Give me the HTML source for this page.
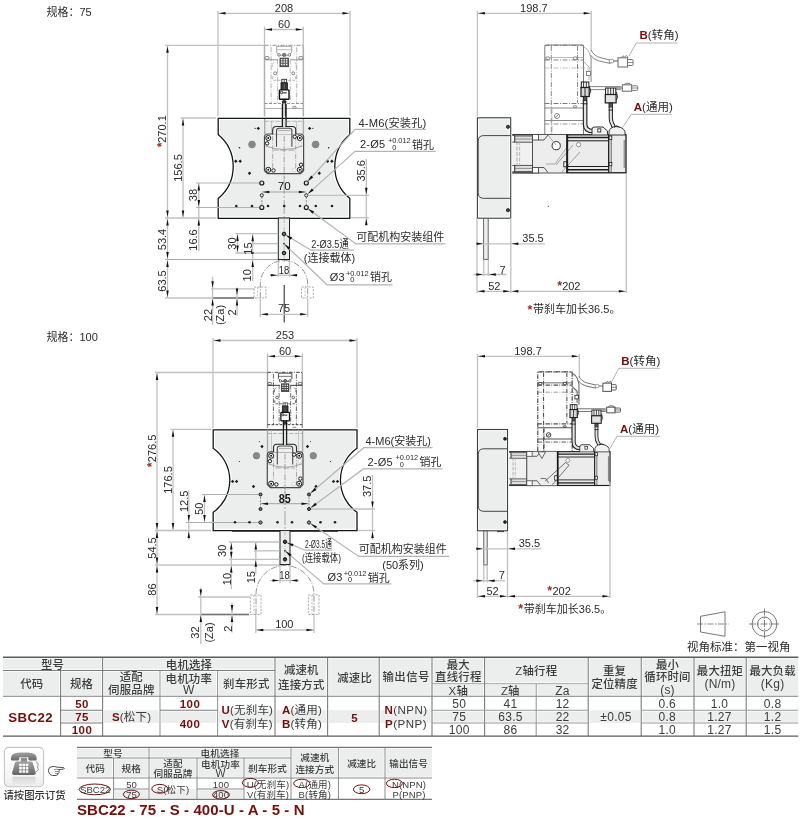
<!DOCTYPE html>
<html lang="zh-CN">
<head>
<meta charset="utf-8">
<title>SBC22</title>
<style>
html,body{margin:0;padding:0;background:#fff;}
body{width:800px;height:820px;overflow:hidden;position:relative;font-family:"Liberation Sans","Noto Sans CJK SC",sans-serif;}
svg{position:absolute;left:0;top:0;display:block;will-change:transform;transform:translateZ(0);}
svg text{font-family:"Liberation Sans","Noto Sans CJK SC",sans-serif;white-space:pre;}
</style>
</head>
<body>
<svg width="800" height="820" viewBox="0 0 800 820">
<text transform="translate(46.5 11.8)" font-size="11" text-anchor="start" fill="#2b2b2b" dy=".36em">规格：75</text>
<line x1="218" y1="11" x2="218" y2="116.5" stroke="#c0c0c0" stroke-width="1.3"/>
<line x1="350" y1="11" x2="350" y2="116.5" stroke="#c0c0c0" stroke-width="1.3"/>
<line x1="264.5" y1="26.5" x2="264.5" y2="45" stroke="#c0c0c0" stroke-width="1.3"/>
<line x1="303.3" y1="26.5" x2="303.3" y2="45" stroke="#c0c0c0" stroke-width="1.3"/>
<line x1="165" y1="45.3" x2="264" y2="45.3" stroke="#c0c0c0" stroke-width="1.3"/>
<line x1="180.5" y1="118" x2="216.5" y2="118" stroke="#c0c0c0" stroke-width="1.3"/>
<line x1="165" y1="218" x2="216.5" y2="218" stroke="#c0c0c0" stroke-width="1.3"/>
<line x1="165" y1="259.5" x2="278" y2="259.5" stroke="#a8a8a8" stroke-width="1.2"/>
<line x1="165" y1="298" x2="254" y2="298" stroke="#c0c0c0" stroke-width="1.3"/>
<line x1="212" y1="298" x2="254" y2="298" stroke="#777" stroke-width="1.6"/>
<line x1="218" y1="13.3" x2="350" y2="13.3" stroke="#c0c0c0" stroke-width="1.3"/>
<polygon points="218.9,13.3 225.5,12.05 225.5,14.55" fill="#111"/>
<polygon points="349.1,13.3 342.5,12.05 342.5,14.55" fill="#111"/>
<text transform="translate(284 8)" font-size="11" text-anchor="middle" fill="#2b2b2b" dy=".36em">208</text>
<line x1="264.5" y1="29.5" x2="303.3" y2="29.5" stroke="#c0c0c0" stroke-width="1.3"/>
<polygon points="265.4,29.5 272,28.25 272,30.75" fill="#111"/>
<polygon points="302.4,29.5 295.8,28.25 295.8,30.75" fill="#111"/>
<text transform="translate(284 24.3)" font-size="11" text-anchor="middle" fill="#2b2b2b" dy=".36em">60</text>
<line x1="167.5" y1="45.3" x2="167.5" y2="218" stroke="#c0c0c0" stroke-width="1.3"/>
<polygon points="167.5,46.2 166.25,52.8 168.75,52.8" fill="#111"/>
<polygon points="167.5,217.1 166.25,210.5 168.75,210.5" fill="#111"/>
<text transform="translate(161.6 129) rotate(-90)" font-size="11" text-anchor="middle" fill="#2b2b2b" dy=".36em">270.1</text>
<text transform="translate(160 144.8) rotate(-90)" font-size="12.5" text-anchor="middle" font-weight="bold" fill="#9a2a1c" dy=".46em">*</text>
<line x1="183" y1="118" x2="183" y2="218" stroke="#c0c0c0" stroke-width="1.3"/>
<polygon points="183,118.9 181.75,125.5 184.25,125.5" fill="#111"/>
<polygon points="183,217.1 181.75,210.5 184.25,210.5" fill="#111"/>
<text transform="translate(177.6 168) rotate(-90)" font-size="11" text-anchor="middle" fill="#2b2b2b" dy=".36em">156.5</text>
<line x1="167.5" y1="218" x2="167.5" y2="259.5" stroke="#c0c0c0" stroke-width="1.3"/>
<polygon points="167.5,218.9 166.25,225.5 168.75,225.5" fill="#111"/>
<polygon points="167.5,258.6 166.25,252 168.75,252" fill="#111"/>
<text transform="translate(162 239.5) rotate(-90)" font-size="11" text-anchor="middle" fill="#2b2b2b" dy=".36em">53.4</text>
<line x1="167.5" y1="259.5" x2="167.5" y2="298" stroke="#c0c0c0" stroke-width="1.3"/>
<polygon points="167.5,260.4 166.25,267 168.75,267" fill="#111"/>
<polygon points="167.5,297.1 166.25,290.5 168.75,290.5" fill="#111"/>
<text transform="translate(162 281) rotate(-90)" font-size="11" text-anchor="middle" fill="#2b2b2b" dy=".36em">63.5</text>
<line x1="198.8" y1="183" x2="198.8" y2="207.5" stroke="#c0c0c0" stroke-width="1.3"/>
<polygon points="198.8,183.9 197.55,190.5 200.05,190.5" fill="#111"/>
<polygon points="198.8,206.6 197.55,200 200.05,200" fill="#111"/>
<text transform="translate(193.3 195) rotate(-90)" font-size="11" text-anchor="middle" fill="#2b2b2b" dy=".36em">38</text>
<line x1="198.8" y1="207.5" x2="198.8" y2="251" stroke="#c0c0c0" stroke-width="1.3"/>
<polygon points="198.8,218.9 197.55,225.5 200.05,225.5" fill="#111"/>
<text transform="translate(193.3 240) rotate(-90)" font-size="11" text-anchor="middle" fill="#2b2b2b" dy=".36em">16.6</text>
<line x1="264.5" y1="45.3" x2="264.5" y2="118" stroke="#b0b0b0" stroke-width="1.5"/>
<line x1="303.3" y1="45.3" x2="303.3" y2="118" stroke="#b0b0b0" stroke-width="1.5"/>
<line x1="264.5" y1="45.3" x2="303.3" y2="45.3" stroke="#8e8e8e" stroke-width="0.95" stroke-dasharray="4 1.5 1 1.5"/>
<line x1="271.1" y1="47.3" x2="271.1" y2="104" stroke="#a4a4a4" stroke-width="0.85" stroke-dasharray="5 1.5 1 1.5"/>
<line x1="296.7" y1="47.3" x2="296.7" y2="104" stroke="#a4a4a4" stroke-width="0.85" stroke-dasharray="5 1.5 1 1.5"/>
<line x1="277.5" y1="59.3" x2="277.5" y2="104" stroke="#a4a4a4" stroke-width="0.75" stroke-dasharray="5 1.5 1 1.5"/>
<line x1="290.3" y1="59.3" x2="290.3" y2="104" stroke="#a4a4a4" stroke-width="0.75" stroke-dasharray="5 1.5 1 1.5"/>
<path d="M276.7 46.3 h15 v6 l-3 3 h-9 l-3 -3 z" stroke="#8e8e8e" stroke-width="0.85" fill="none" />
<line x1="277.2" y1="49.8" x2="291.2" y2="49.8" stroke="#a4a4a4" stroke-width="0.75"/>
<line x1="264.5" y1="59.8" x2="278.2" y2="59.8" stroke="#8e8e8e" stroke-width="0.95"/>
<line x1="290.2" y1="59.8" x2="303.3" y2="59.8" stroke="#8e8e8e" stroke-width="0.95"/>
<rect x="265" y="56.6" width="4" height="2.6" stroke="#666" stroke-width="0.8" fill="#fff" rx="1"/>
<rect x="298.8" y="56.6" width="4" height="2.6" stroke="#666" stroke-width="0.8" fill="#fff" rx="1"/>
<circle cx="279" cy="54.9" r="1.3" stroke="#666" stroke-width="0.8" fill="#fff"/>
<circle cx="289.4" cy="54.9" r="1.3" stroke="#666" stroke-width="0.8" fill="#fff"/>
<circle cx="284.2" cy="54.9" r="1.7" stroke="#666" stroke-width="0.8" fill="#777"/>
<rect x="280" y="58.1" width="8.4" height="8.6" stroke="#333" stroke-width="0.8" fill="#6a6a6a"/>
<circle cx="281.7" cy="59.7" r="0.75" stroke="none" stroke-width="0" fill="#fff"/>
<circle cx="281.7" cy="62.1" r="0.75" stroke="none" stroke-width="0" fill="#fff"/>
<circle cx="281.7" cy="64.5" r="0.75" stroke="none" stroke-width="0" fill="#fff"/>
<circle cx="284.2" cy="59.7" r="0.75" stroke="none" stroke-width="0" fill="#fff"/>
<circle cx="284.2" cy="62.1" r="0.75" stroke="none" stroke-width="0" fill="#fff"/>
<circle cx="284.2" cy="64.5" r="0.75" stroke="none" stroke-width="0" fill="#fff"/>
<circle cx="286.7" cy="59.7" r="0.75" stroke="none" stroke-width="0" fill="#fff"/>
<circle cx="286.7" cy="62.1" r="0.75" stroke="none" stroke-width="0" fill="#fff"/>
<circle cx="286.7" cy="64.5" r="0.75" stroke="none" stroke-width="0" fill="#fff"/>
<circle cx="275.2" cy="73.3" r="1.5" stroke="#666" stroke-width="0.8" fill="#fff"/>
<circle cx="293.2" cy="73.3" r="1.5" stroke="#666" stroke-width="0.8" fill="#fff"/>
<path d="M274.2 62.3 l-2 2 v3 M294.2 62.3 l2 2 v3" stroke="#a4a4a4" stroke-width="0.75" fill="none" />
<path d="M272.7 76.3 v4 h8 M295.7 76.3 v4 h-8" stroke="#a4a4a4" stroke-width="0.75" fill="none" stroke-dasharray="3 1.5" />
<line x1="264.5" y1="103.5" x2="303.3" y2="103.5" stroke="#8e8e8e" stroke-width="0.95" stroke-dasharray="3 1.5"/>
<line x1="264.5" y1="108.5" x2="303.3" y2="108.5" stroke="#a4a4a4" stroke-width="0.85"/>
<rect x="292.7" y="106.4" width="3.5" height="1.8" stroke="#666" stroke-width="0.7" fill="#fff" rx="0.8"/>
<rect x="281.8" y="79.3" width="4.8" height="3.4" stroke="#333" stroke-width="0.9" fill="#fff"/>
<line x1="284.2" y1="79.3" x2="284.2" y2="82.7" stroke="#333" stroke-width="0.8"/>
<rect x="281" y="82.9" width="6.4" height="7.4" stroke="#111" stroke-width="0.8" fill="#3a3a3a"/>
<line x1="284.2" y1="83.3" x2="284.2" y2="90.3" stroke="#888" stroke-width="0.5"/>
<rect x="279.4" y="89.9" width="9.6" height="9.4" stroke="#111" stroke-width="1.4" fill="#fff" rx="0.8"/>
<circle cx="281.6" cy="92.5" r="1.2" stroke="#111" stroke-width="0.9" fill="#fff"/>
<line x1="283.2" y1="92.9" x2="286.7" y2="92.9" stroke="#111" stroke-width="1"/>
<path d="M284.2 99.3 l-2.2 2.6 l2.2 2.6 l2.2 -2.6 z" stroke="#111" stroke-width="0.8" fill="#333" />
<line x1="282.7" y1="103.3" x2="282.7" y2="128" stroke="#222" stroke-width="1.1"/>
<line x1="285.7" y1="103.3" x2="285.7" y2="128" stroke="#222" stroke-width="1.1"/>
<line x1="284.2" y1="103.3" x2="284.2" y2="128" stroke="#d8d8d8" stroke-width="1.6"/>
<path d="M218.2 118.3 H349.8 V134.5 A41.74 41.74 0 0 0 349.8 198.6 V218.3 H218.2 V198.6 A41.74 41.74 0 0 0 218.2 134.5 Z" stroke="#fff" stroke-width="3.6" fill="#eceeed" stroke-linejoin="miter"/>
<path d="M218.2 118.3 H349.8 V134.5 A41.74 41.74 0 0 0 349.8 198.6 V218.3 H218.2 V198.6 A41.74 41.74 0 0 0 218.2 134.5 Z" stroke="#161616" stroke-width="1.3" fill="none" stroke-linejoin="miter"/>
<line x1="284.2" y1="120" x2="284.2" y2="262" stroke="#b0b0b0" stroke-width="1.2" stroke-dasharray="14 2 2 2"/>
<line x1="264.7" y1="119" x2="264.7" y2="134" stroke="#aaa" stroke-width="1.4"/>
<line x1="303.4" y1="119" x2="303.4" y2="134" stroke="#aaa" stroke-width="1.4"/>
<line x1="271.5" y1="121" x2="271.5" y2="134" stroke="#bbb" stroke-width="0.8"/>
<line x1="296.5" y1="121" x2="296.5" y2="134" stroke="#bbb" stroke-width="0.8"/>
<line x1="264.7" y1="121.3" x2="303.4" y2="121.3" stroke="#aaa" stroke-width="0.8" stroke-dasharray="4 1.5"/>
<path d="M264.5 137 q0 -3 3 -3 H300.6 q3 0 3 3 V170.7 l-3 3 H267.5 l-3 -3 Z" stroke="#4a4a4a" stroke-width="1.2" fill="#efefef" />
<path d="M265.5 146 q18.55 7 37.1 0" stroke="#9a9a9a" stroke-width="0.9" fill="none" />
<line x1="272.5" y1="150.2" x2="295.6" y2="150.2" stroke="#aaa" stroke-width="1" stroke-dasharray="6 2"/>
<line x1="272.7" y1="136" x2="272.7" y2="170.7" stroke="#999" stroke-width="0.8" stroke-dasharray="5 1.5 1 1.5"/>
<line x1="295.7" y1="136" x2="295.7" y2="170.7" stroke="#999" stroke-width="0.8" stroke-dasharray="5 1.5 1 1.5"/>
<line x1="284.2" y1="136" x2="284.2" y2="179.7" stroke="#999" stroke-width="0.9" stroke-dasharray="6 1.5 1.2 1.5"/>
<path d="M272.7 134.4 v-4.5 q0 -3.4 3.4 -3.4 h16.2 q3.4 0 3.4 3.4 v4.5" stroke="#2a2a2a" stroke-width="1.1" fill="#efefef" />
<path d="M276.5 146.8 v-16 q0 -2.6 2.6 -2.6 h10.2 q2.6 0 2.6 2.6 v16" stroke="#4a4a4a" stroke-width="1.1" fill="none" />
<line x1="278.2" y1="130.6" x2="290.2" y2="130.6" stroke="#999" stroke-width="0.8"/>
<circle cx="268.3" cy="138" r="2.5" stroke="#1a1a1a" stroke-width="1" fill="#fff"/>
<circle cx="268.3" cy="138" r="1" stroke="none" stroke-width="0" fill="#111"/>
<circle cx="299.8" cy="138" r="2.5" stroke="#1a1a1a" stroke-width="1" fill="#fff"/>
<circle cx="299.8" cy="138" r="1" stroke="none" stroke-width="0" fill="#111"/>
<circle cx="268.3" cy="169.8" r="2.5" stroke="#1a1a1a" stroke-width="1" fill="#fff"/>
<circle cx="268.3" cy="169.8" r="1" stroke="none" stroke-width="0" fill="#111"/>
<circle cx="299.8" cy="169.8" r="2.5" stroke="#1a1a1a" stroke-width="1" fill="#fff"/>
<circle cx="299.8" cy="169.8" r="1" stroke="none" stroke-width="0" fill="#111"/>
<circle cx="267.1" cy="143.4" r="1.7" stroke="#1a1a1a" stroke-width="1" fill="#fff"/>
<circle cx="294.7" cy="136.8" r="1.7" stroke="#1a1a1a" stroke-width="1" fill="#fff"/>
<circle cx="273.5" cy="170.5" r="1.7" stroke="#1a1a1a" stroke-width="1" fill="#fff"/>
<circle cx="301" cy="164.7" r="1.7" stroke="#1a1a1a" stroke-width="1" fill="#fff"/>
<circle cx="300.2" cy="143.6" r="1.8" stroke="#bbb" stroke-width="0.6" fill="#fff"/>
<circle cx="294.3" cy="169.9" r="1.8" stroke="#bbb" stroke-width="0.6" fill="#fff"/>
<line x1="196" y1="183" x2="260" y2="183" stroke="#b0b0b0" stroke-width="1"/>
<line x1="196" y1="207.5" x2="260" y2="207.5" stroke="#b0b0b0" stroke-width="1"/>
<line x1="282.4" y1="104" x2="282.4" y2="127" stroke="#1a1a1a" stroke-width="1.3"/>
<line x1="286" y1="104" x2="286" y2="127" stroke="#1a1a1a" stroke-width="1.3"/>
<line x1="284.2" y1="119.5" x2="284.2" y2="127" stroke="#e4e4e4" stroke-width="2"/>
<circle cx="261.8" cy="183" r="2" stroke="#1a1a1a" stroke-width="1.2" fill="#e8e8e8"/>
<circle cx="261.8" cy="207.5" r="2" stroke="#1a1a1a" stroke-width="1.2" fill="#e8e8e8"/>
<circle cx="261.8" cy="195.3" r="1.6" stroke="#1a1a1a" stroke-width="0.9" fill="#e8e8e8"/>
<line x1="261.8" y1="197" x2="261.8" y2="205.5" stroke="#666" stroke-width="0.7" stroke-dasharray="2 1.2"/>
<circle cx="306.3" cy="183" r="2" stroke="#1a1a1a" stroke-width="1.2" fill="#e8e8e8"/>
<circle cx="306.3" cy="207.5" r="2" stroke="#1a1a1a" stroke-width="1.2" fill="#e8e8e8"/>
<circle cx="306.3" cy="195.3" r="1.6" stroke="#1a1a1a" stroke-width="0.9" fill="#e8e8e8"/>
<line x1="306.3" y1="197" x2="306.3" y2="205.5" stroke="#666" stroke-width="0.7" stroke-dasharray="2 1.2"/>
<circle cx="236.3" cy="206" r="1.3" stroke="none" stroke-width="0" fill="#222"/>
<circle cx="252" cy="206" r="1.3" stroke="none" stroke-width="0" fill="#222"/>
<circle cx="268" cy="206" r="1.3" stroke="none" stroke-width="0" fill="#222"/>
<circle cx="284.2" cy="206" r="1.3" stroke="none" stroke-width="0" fill="#222"/>
<circle cx="300" cy="206" r="1.3" stroke="none" stroke-width="0" fill="#222"/>
<circle cx="315.8" cy="206" r="1.3" stroke="none" stroke-width="0" fill="#222"/>
<circle cx="332" cy="206" r="1.3" stroke="none" stroke-width="0" fill="#222"/>
<path d="M249.5 171.6 l1.7 1.7 l-1.7 1.7 l-1.7 -1.7 z" stroke="none" stroke-width="0" fill="#1a1a1a" />
<path d="M319.3 171.6 l1.7 1.7 l-1.7 1.7 l-1.7 -1.7 z" stroke="none" stroke-width="0" fill="#1a1a1a" />
<path d="M235.8 159.5 l1.7 1.7 l-1.7 1.7 l-1.7 -1.7 z" stroke="none" stroke-width="0" fill="#1a1a1a" />
<path d="M240.2 159.5 l1.7 1.7 l-1.7 1.7 l-1.7 -1.7 z" stroke="none" stroke-width="0" fill="#1a1a1a" />
<path d="M327.5 159.5 l1.7 1.7 l-1.7 1.7 l-1.7 -1.7 z" stroke="none" stroke-width="0" fill="#1a1a1a" />
<path d="M331.9 159.5 l1.7 1.7 l-1.7 1.7 l-1.7 -1.7 z" stroke="none" stroke-width="0" fill="#1a1a1a" />
<circle cx="252" cy="144.5" r="3.4" stroke="#777" stroke-width="0.8" fill="#9a9a9a"/>
<circle cx="252" cy="144.5" r="1.9" stroke="#777" stroke-width="0.6" fill="#888"/>
<circle cx="315.6" cy="144.5" r="3.4" stroke="#777" stroke-width="0.8" fill="#9a9a9a"/>
<circle cx="315.6" cy="144.5" r="1.9" stroke="#777" stroke-width="0.6" fill="#888"/>
<path d="M258.3 126.7 l1.7 1.7 l-1.7 1.7 l-1.7 -1.7 z" stroke="none" stroke-width="0" fill="#1a1a1a" />
<line x1="256" y1="128.4" x2="254.3" y2="128.4" stroke="#444" stroke-width="0.8"/>
<path d="M309.6 126.7 l1.7 1.7 l-1.7 1.7 l-1.7 -1.7 z" stroke="none" stroke-width="0" fill="#1a1a1a" />
<line x1="311.9" y1="128.4" x2="313.6" y2="128.4" stroke="#444" stroke-width="0.8"/>
<circle cx="239.5" cy="147.7" r="0.8" stroke="none" stroke-width="0" fill="#222"/>
<circle cx="328.7" cy="147.7" r="0.8" stroke="none" stroke-width="0" fill="#222"/>
<line x1="261.8" y1="192" x2="306.3" y2="192" stroke="#a0a0a0" stroke-width="1"/>
<polygon points="262.7,192 269.3,190.75 269.3,193.25" fill="#111"/>
<polygon points="305.4,192 298.8,190.75 298.8,193.25" fill="#111"/>
<text transform="translate(284.2 186.3)" font-size="11.6" text-anchor="middle" fill="#111" dy=".36em">70</text>
<rect x="278.3" y="218" width="11.2" height="41.5" stroke="#222" stroke-width="1" fill="#eceeed"/>
<line x1="284.2" y1="218" x2="284.2" y2="259.5" stroke="#aaa" stroke-width="0.7" stroke-dasharray="5 1.5 1 1.5"/>
<circle cx="284" cy="234" r="1.8" stroke="#111" stroke-width="1" fill="#666"/>
<circle cx="284" cy="243.6" r="0.9" stroke="none" stroke-width="0" fill="#222"/>
<circle cx="284" cy="253" r="1.8" stroke="#111" stroke-width="1" fill="#666"/>
<line x1="235.5" y1="233.6" x2="278" y2="233.6" stroke="#c0c0c0" stroke-width="1.3"/>
<line x1="235.5" y1="253" x2="278" y2="253" stroke="#c0c0c0" stroke-width="1.3"/>
<line x1="252" y1="243.7" x2="278" y2="243.7" stroke="#c0c0c0" stroke-width="1.3"/>
<line x1="237.5" y1="233.6" x2="237.5" y2="253" stroke="#c0c0c0" stroke-width="1.3"/>
<polygon points="237.5,234.5 236.25,241.1 238.75,241.1" fill="#111"/>
<polygon points="237.5,252.1 236.25,245.5 238.75,245.5" fill="#111"/>
<text transform="translate(231.6 243.5) rotate(-90)" font-size="11" text-anchor="middle" fill="#2b2b2b" dy=".36em">30</text>
<line x1="252.7" y1="233.8" x2="252.7" y2="281" stroke="#c0c0c0" stroke-width="1.3"/>
<polygon points="252.7,234.7 251.45,241.3 253.95,241.3" fill="#111"/>
<circle cx="252.7" cy="253" r="1.1" stroke="none" stroke-width="0" fill="#222"/>
<text transform="translate(247.6 248.6) rotate(-90)" font-size="11" text-anchor="middle" fill="#2b2b2b" dy=".36em">15</text>
<polygon points="252.7,260.4 251.45,267 253.95,267" fill="#111"/>
<text transform="translate(247.4 275.3) rotate(-90)" font-size="11" text-anchor="middle" fill="#2b2b2b" dy=".36em">10</text>
<line x1="278.3" y1="260" x2="278.3" y2="277" stroke="#c0c0c0" stroke-width="1.3"/>
<line x1="289.5" y1="260" x2="289.5" y2="277" stroke="#c0c0c0" stroke-width="1.3"/>
<line x1="269.5" y1="275.2" x2="297.5" y2="275.2" stroke="#c0c0c0" stroke-width="1.3"/>
<polygon points="277.4,275.2 270.8,273.95 270.8,276.45" fill="#111"/>
<polygon points="290.4,275.2 297,273.95 297,276.45" fill="#111"/>
<text transform="translate(284 270) scale(0.9 1)" font-size="10.5" text-anchor="middle" fill="#2b2b2b" dy=".36em">18</text>
<path d="M260.3 298 V284.2 A23.7 23.7 0 0 1 307.7 284.2 V298" stroke="#8c8c8c" stroke-width="0.9" fill="none" stroke-dasharray="6 1.5 1.2 1.5" />
<rect x="254.1" y="287" width="11.8" height="11" stroke="#9a9a9a" stroke-width="0.8" fill="none" stroke-dasharray="2.2 1.3"/>
<line x1="257.7" y1="287" x2="257.7" y2="298" stroke="#aaa" stroke-width="0.7" stroke-dasharray="2.2 1.3"/>
<rect x="301.5" y="287" width="11.8" height="11" stroke="#9a9a9a" stroke-width="0.8" fill="none" stroke-dasharray="2.2 1.3"/>
<line x1="305.1" y1="287" x2="305.1" y2="298" stroke="#aaa" stroke-width="0.7" stroke-dasharray="2.2 1.3"/>
<line x1="284.2" y1="285" x2="284.2" y2="322.5" stroke="#333" stroke-width="1.1"/>
<line x1="260.3" y1="299" x2="260.3" y2="317" stroke="#c0c0c0" stroke-width="1.3"/>
<line x1="307.7" y1="299" x2="307.7" y2="317" stroke="#c0c0c0" stroke-width="1.3"/>
<line x1="260.3" y1="314.3" x2="307.7" y2="314.3" stroke="#c0c0c0" stroke-width="1.3"/>
<polygon points="261.2,314.3 267.8,313.05 267.8,315.55" fill="#111"/>
<polygon points="306.8,314.3 300.2,313.05 300.2,315.55" fill="#111"/>
<text transform="translate(284 308.5)" font-size="11" text-anchor="middle" fill="#2b2b2b" dy=".36em">75</text>
<line x1="211" y1="288.8" x2="254" y2="288.8" stroke="#c0c0c0" stroke-width="1.3"/>
<line x1="212.6" y1="277" x2="212.6" y2="325" stroke="#c0c0c0" stroke-width="1.3"/>
<polygon points="212.6,287.9 211.35,281.3 213.85,281.3" fill="#111"/>
<polygon points="212.6,298.9 211.35,305.5 213.85,305.5" fill="#111"/>
<text transform="translate(207.7 315) rotate(-90)" font-size="11" text-anchor="middle" fill="#2b2b2b" dy=".36em">22</text>
<text transform="translate(220.5 315) rotate(-90)" font-size="11" text-anchor="middle" fill="#2b2b2b" dy=".36em">(Za)</text>
<line x1="237" y1="287.5" x2="237" y2="316" stroke="#c0c0c0" stroke-width="1.3"/>
<polygon points="237,295.1 235.75,288.5 238.25,288.5" fill="#111"/>
<polygon points="237,298.9 235.75,305.5 238.25,305.5" fill="#111"/>
<text transform="translate(232.5 312.5) rotate(-90)" font-size="11" text-anchor="middle" fill="#2b2b2b" dy=".36em">2</text>
<path d="M307.78 181.37 L355 129.3 H426" stroke="#b4b4b4" stroke-width="1.2" fill="none" />
<polygon points="307.78,181.37 311.11,175.61 313.18,177.5" fill="#111"/>
<text transform="translate(358.5 122.6)" font-size="11.2" text-anchor="start" fill="#2b2b2b" dy=".36em" letter-spacing="0.15">4-M6(安装孔)</text>
<path d="M307.93 193.83 L355 151.4 H435.6" stroke="#b4b4b4" stroke-width="1.2" fill="none" />
<polygon points="307.93,193.83 311.82,188.44 313.7,190.51" fill="#111"/>
<text transform="translate(360 144.2)" font-size="11" text-anchor="start" fill="#2b2b2b" dy=".36em" letter-spacing="0.2">2-Ø5</text>
<text transform="translate(388 140.3)" font-size="7.5" text-anchor="start" fill="#2b2b2b" dy=".36em">+</text>
<text transform="translate(392.2 140.3)" font-size="7.4" text-anchor="start" fill="#2b2b2b" dy=".36em">0.012</text>
<text transform="translate(392.2 146.9)" font-size="7.4" text-anchor="start" fill="#2b2b2b" dy=".36em">0</text>
<text transform="translate(412 144.8)" font-size="11" text-anchor="start" fill="#2b2b2b" dy=".36em">销孔</text>
<line x1="308" y1="195.3" x2="369" y2="195.3" stroke="#c0c0c0" stroke-width="1.3"/>
<line x1="351" y1="217.7" x2="369" y2="217.7" stroke="#c0c0c0" stroke-width="1.3"/>
<line x1="366.3" y1="159" x2="366.3" y2="225" stroke="#c0c0c0" stroke-width="1.3"/>
<polygon points="366.3,194.4 365.05,187.8 367.55,187.8" fill="#111"/>
<polygon points="366.3,218.6 365.05,225.2 367.55,225.2" fill="#111"/>
<text transform="translate(361 170.8) rotate(-90)" font-size="11" text-anchor="middle" fill="#2b2b2b" dy=".36em">35.6</text>
<path d="M308.07 208.8 L356 243.9 H445.5" stroke="#b4b4b4" stroke-width="1.2" fill="none" />
<polygon points="308.07,208.8 314.15,211.51 312.49,213.77" fill="#111"/>
<text transform="translate(356.3 236.8)" font-size="11" text-anchor="start" fill="#2b2b2b" dy=".36em">可配机构安装组件</text>
<path d="M285.89 235.13 L311 250.2 H353.8" stroke="#b4b4b4" stroke-width="1.2" fill="none" />
<polygon points="285.89,235.13 292.18,237.28 290.74,239.68" fill="#111"/>
<text transform="translate(311.3 244.3) scale(0.84 1)" font-size="11" text-anchor="start" fill="#2b2b2b" dy=".36em">2-Ø3.5通</text>
<text transform="translate(303.8 258.3)" font-size="11" text-anchor="start" fill="#2b2b2b" dy=".36em">(连接载体)</text>
<path d="M284.36 243.95 L327 284.8 H392.5" stroke="#b4b4b4" stroke-width="1.2" fill="none" />
<polygon points="284.36,243.95 290.38,247.78 288.45,249.8" fill="#111"/>
<text transform="translate(329.8 276.8)" font-size="11" text-anchor="start" fill="#2b2b2b" dy=".36em" letter-spacing="0.2">Ø3</text>
<text transform="translate(346 272.9)" font-size="7.5" text-anchor="start" fill="#2b2b2b" dy=".36em">+</text>
<text transform="translate(350.2 272.9)" font-size="7.4" text-anchor="start" fill="#2b2b2b" dy=".36em">0.012</text>
<text transform="translate(350.2 279.5)" font-size="7.4" text-anchor="start" fill="#2b2b2b" dy=".36em">0</text>
<text transform="translate(370 277.4)" font-size="11" text-anchor="start" fill="#2b2b2b" dy=".36em">销孔</text>
<line x1="477.4" y1="11" x2="477.4" y2="117.5" stroke="#c0c0c0" stroke-width="1.3"/>
<line x1="591.2" y1="11" x2="591.2" y2="82" stroke="#c0c0c0" stroke-width="1.3"/>
<line x1="477.4" y1="13.3" x2="591.2" y2="13.3" stroke="#c0c0c0" stroke-width="1.3"/>
<polygon points="478.3,13.3 484.9,12.05 484.9,14.55" fill="#111"/>
<polygon points="590.3,13.3 583.7,12.05 583.7,14.55" fill="#111"/>
<text transform="translate(533.8 8)" font-size="11" text-anchor="middle" fill="#2b2b2b" dy=".36em">198.7</text>
<path d="M544.8 134 V47 q0 -2 2 -2 H581.5 q2 0 2 2 V134" stroke="#787878" stroke-width="0.99" fill="#fff" />
<line x1="544.5" y1="45.3" x2="584" y2="45.3" stroke="#787878" stroke-width="0.99" stroke-dasharray="5 1.5 1 1.5"/>
<path d="M584 47 q4 2 5.5 6 l1.6 6 V82" stroke="#a8a8a8" stroke-width="0.88" fill="none" />
<path d="M584 62 l5 5 V80" stroke="#a8a8a8" stroke-width="0.88" fill="none" />
<line x1="551.3" y1="46" x2="551.3" y2="134" stroke="#787878" stroke-width="0.88" stroke-dasharray="5 1.5 1 1.5"/>
<line x1="577.5" y1="46" x2="577.5" y2="103" stroke="#787878" stroke-width="0.88" stroke-dasharray="5 1.5 1 1.5"/>
<line x1="544.5" y1="60" x2="584" y2="60" stroke="#787878" stroke-width="0.88" stroke-dasharray="5 1.5 1 1.5"/>
<line x1="544.5" y1="57.5" x2="584" y2="57.5" stroke="#a8a8a8" stroke-width="0.77"/>
<rect x="546" y="57" width="3.4" height="2.6" stroke="#666" stroke-width="0.77" fill="#fff" rx="0.6"/>
<rect x="573.5" y="57" width="3.4" height="2.6" stroke="#666" stroke-width="0.77" fill="#fff" rx="0.6"/>
<line x1="544.5" y1="68" x2="591" y2="68" stroke="#a8a8a8" stroke-width="0.7" stroke-dasharray="5 1.5 1 1.5"/>
<line x1="544.5" y1="103.5" x2="584" y2="103.5" stroke="#787878" stroke-width="0.99" stroke-dasharray="5 1.5 1 1.5"/>
<line x1="544.5" y1="108" x2="584" y2="108" stroke="#787878" stroke-width="0.88"/>
<rect x="573.5" y="105.8" width="3.2" height="1.8" stroke="#666" stroke-width="0.77" fill="#fff" rx="0.6"/>
<line x1="544.5" y1="120.5" x2="584" y2="120.5" stroke="#787878" stroke-width="0.88"/>
<line x1="544.5" y1="124" x2="584" y2="124" stroke="#787878" stroke-width="0.77" stroke-dasharray="5 1.5 1 1.5"/>
<line x1="552" y1="108" x2="552" y2="134" stroke="#a8a8a8" stroke-width="0.77" stroke-dasharray="5 1.5 1 1.5"/>
<circle cx="557" cy="116" r="2.5" stroke="#666" stroke-width="0.77" fill="#fff"/>
<line x1="555.4" y1="117.6" x2="558.6" y2="114.4" stroke="#666" stroke-width="0.77"/>
<rect x="586.5" y="71.5" width="4" height="4" stroke="#666" stroke-width="0.77" fill="#fff"/>
<path d="M591 50 q3 6 9 7.5 l10 2.5 v3.4 l-11 -2.4 q-6 -1.5 -9 -6.5" stroke="#787878" stroke-width="0.9" fill="#fff" />
<rect x="609.3" y="59.3" width="4.2" height="3.6" stroke="#777" stroke-width="0.8" fill="#fff" rx="1.2"/>
<line x1="613.5" y1="61" x2="618" y2="61" stroke="#444" stroke-width="0.9"/>
<rect x="618" y="57.8" width="9.6" height="9.2" stroke="#666" stroke-width="1" fill="#fff"/>
<rect x="627.6" y="59.5" width="5.4" height="6" stroke="#666" stroke-width="0.9" fill="#fff" rx="1"/>
<line x1="627.6" y1="62.5" x2="633" y2="62.5" stroke="#666" stroke-width="0.7"/>
<path d="M621 57.8 l2 -2 l1.5 1.2 l2 -1.5 l1.5 2.3" stroke="#666" stroke-width="0.8" fill="none" />
<path d="M589 86.6 H621 M589 89.6 H621" stroke="#787878" stroke-width="0.9" fill="none" />
<line x1="616" y1="88" x2="622" y2="88" stroke="#444" stroke-width="0.9"/>
<rect x="622.3" y="84.8" width="9.4" height="6.4" stroke="#666" stroke-width="1" fill="#fff"/>
<rect x="631.7" y="85.8" width="6" height="4.6" stroke="#666" stroke-width="0.9" fill="#fff" rx="1"/>
<line x1="631.7" y1="88" x2="637.7" y2="88" stroke="#666" stroke-width="0.7"/>
<path d="M624 84.8 l1.5 -1.6 l4.5 0.3 l1 1.3" stroke="#666" stroke-width="0.8" fill="none" />
<rect x="581.3" y="82" width="7.6" height="5.5" stroke="#1c1c1c" stroke-width="1" fill="#fff"/>
<line x1="583.6" y1="82" x2="583.6" y2="87.5" stroke="#1c1c1c" stroke-width="0.9"/>
<line x1="586.3" y1="82" x2="586.3" y2="87.5" stroke="#1c1c1c" stroke-width="0.9"/>
<rect x="581" y="87.5" width="8.2" height="9" stroke="#1c1c1c" stroke-width="1.2" fill="#d8d8d8"/>
<line x1="585" y1="88" x2="585" y2="96" stroke="#1c1c1c" stroke-width="0.9"/>
<path d="M589.2 86 l1.6 5 l-1.6 4" stroke="#1c1c1c" stroke-width="0.9" fill="none" />
<rect x="583.3" y="96.5" width="3.6" height="4.2" stroke="#1c1c1c" stroke-width="0.9" fill="#555"/>
<path d="M585.1 101 V124 q0 7 7.5 7 H596" stroke="#1c1c1c" stroke-width="4.6" fill="none" />
<path d="M585.1 101 V124 q0 7 7.5 7 H596" stroke="#e4e4e4" stroke-width="2.4" fill="none" />
<line x1="582.8" y1="103.8" x2="587.4" y2="103.8" stroke="#1c1c1c" stroke-width="0.9"/>
<rect x="605.6" y="88" width="10.2" height="6.5" stroke="#1c1c1c" stroke-width="1" fill="#fff"/>
<line x1="608" y1="88" x2="608" y2="94.5" stroke="#1c1c1c" stroke-width="0.9"/>
<line x1="610.7" y1="88" x2="610.7" y2="94.5" stroke="#1c1c1c" stroke-width="0.9"/>
<line x1="613.4" y1="88" x2="613.4" y2="94.5" stroke="#1c1c1c" stroke-width="0.9"/>
<rect x="605.3" y="94.5" width="10.8" height="8.4" stroke="#1c1c1c" stroke-width="1.2" fill="#e4e4e4"/>
<path d="M616.4 92 l1.3 5.6 l-1.6 2.4" stroke="#1c1c1c" stroke-width="0.9" fill="none" />
<rect x="609" y="103" width="3.6" height="4.4" stroke="#1c1c1c" stroke-width="0.9" fill="#555"/>
<path d="M610.8 107.4 V118 q0 4 2 7 l2 4" stroke="#1c1c1c" stroke-width="4.2" fill="none" />
<path d="M610.8 107.4 V118 q0 4 2 7 l2 4" stroke="#e4e4e4" stroke-width="2.2" fill="none" />
<line x1="608.6" y1="110" x2="613" y2="110" stroke="#1c1c1c" stroke-width="0.9"/>
<rect x="511" y="134.5" width="115" height="38.5" stroke="none" stroke-width="0" fill="#ececec"/>
<rect x="511" y="134.5" width="21.5" height="38.5" stroke="#333" stroke-width="0.9" fill="#f1f1f1"/>
<rect x="514.8" y="136" width="17.8" height="6.2" stroke="#444" stroke-width="0.9" fill="#e2e2e2"/>
<rect x="514.8" y="165.4" width="17.8" height="6.2" stroke="#444" stroke-width="0.9" fill="#e2e2e2"/>
<line x1="515" y1="139" x2="532.5" y2="139" stroke="#777" stroke-width="0.8"/>
<line x1="515" y1="168.4" x2="532.5" y2="168.4" stroke="#777" stroke-width="0.8"/>
<line x1="511" y1="134.8" x2="533" y2="134.8" stroke="#333" stroke-width="1"/>
<line x1="511" y1="172.8" x2="533" y2="172.8" stroke="#333" stroke-width="1"/>
<rect x="511.4" y="135.6" width="3.2" height="6.4" stroke="#444" stroke-width="0.9" fill="#fff"/>
<rect x="511.4" y="165.4" width="3.2" height="6.4" stroke="#444" stroke-width="0.9" fill="#fff"/>
<line x1="517" y1="141" x2="517" y2="167" stroke="#999" stroke-width="0.8" stroke-dasharray="4 1.5"/>
<line x1="519.6" y1="141" x2="519.6" y2="167" stroke="#aaa" stroke-width="0.8" stroke-dasharray="4 1.5"/>
<path d="M532.5 134.5 H567 V173 H532.5 Z" stroke="#444" stroke-width="0.9" fill="#ededed" />
<rect x="532.5" y="134.5" width="6" height="5.5" stroke="#444" stroke-width="0.9" fill="#fff"/>
<rect x="532.5" y="167.5" width="6" height="5.5" stroke="#444" stroke-width="0.9" fill="#fff"/>
<path d="M538.5 140 H544 L548 135 M538.5 167.5 H544 L548 172.5" stroke="#444" stroke-width="0.9" fill="none" />
<circle cx="556.2" cy="145.7" r="4.1" stroke="#333" stroke-width="1" fill="#fff"/>
<path d="M548 135 l8 10 M567 147 l-12 17 h-9" stroke="#999" stroke-width="0.8" fill="none" />
<path d="M556 165 L573 145 M561 173 L580 152" stroke="#8a8a8a" stroke-width="0.8" fill="none" />
<circle cx="578.6" cy="144.6" r="2.2" stroke="#777" stroke-width="0.8" fill="#fff"/>
<rect x="563.8" y="161.8" width="3" height="5" stroke="#222" stroke-width="0.9" fill="#fff"/>
<line x1="567" y1="134.5" x2="567" y2="173" stroke="#1c1c1c" stroke-width="1.5"/>
<rect x="567.5" y="134.8" width="58.5" height="38" stroke="#1c1c1c" stroke-width="1.3" fill="none"/>
<line x1="567.5" y1="137.6" x2="608.5" y2="137.6" stroke="#1c1c1c" stroke-width="1.5"/>
<line x1="567.5" y1="140.8" x2="608.5" y2="140.8" stroke="#1c1c1c" stroke-width="1"/>
<line x1="567.5" y1="166.5" x2="608.5" y2="166.5" stroke="#1c1c1c" stroke-width="1"/>
<line x1="567.5" y1="169.8" x2="608.5" y2="169.8" stroke="#1c1c1c" stroke-width="1.5"/>
<line x1="608.7" y1="134.8" x2="608.7" y2="172.8" stroke="#1c1c1c" stroke-width="1.3"/>
<line x1="611.2" y1="134.8" x2="611.2" y2="172.8" stroke="#444" stroke-width="0.8"/>
<rect x="609.2" y="136" width="2.6" height="3.4" stroke="#1c1c1c" stroke-width="0.8" fill="#fff"/>
<rect x="609.2" y="162.4" width="2.6" height="3.4" stroke="#1c1c1c" stroke-width="0.8" fill="#fff"/>
<line x1="624.2" y1="140" x2="624.2" y2="168" stroke="#555" stroke-width="0.8"/>
<path d="M592 134.5 V129.5 q0 -2.5 2.5 -2.5 H603 l4.5 4 V134.5" stroke="#1c1c1c" stroke-width="0.9" fill="#f2f2f2" />
<rect x="597.8" y="128.8" width="3" height="3.2" stroke="#1c1c1c" stroke-width="0.8" fill="#fff"/>
<path d="M609 134.5 v-3 q1 -4.5 7 -5 q7 0.5 9 5 v3" stroke="#1c1c1c" stroke-width="0.9" fill="#f2f2f2" />
<path d="M614 127.5 l2.5 -1.8 l3 1.4" stroke="#1c1c1c" stroke-width="0.8" fill="none" />
<rect x="477.4" y="117.8" width="33.3" height="100.4" stroke="#fff" stroke-width="3.2" fill="#eceeed"/>
<rect x="477.4" y="117.8" width="33.3" height="100.4" stroke="#3c3c3c" stroke-width="1.1" fill="none"/>
<path d="M510.7 135.6 H483.7 q-5.5 0 -5.5 5.5 V192.8 q0 5.5 5.5 5.5 H510.7" stroke="#444" stroke-width="1" fill="none" />
<circle cx="508" cy="126.8" r="1.6" stroke="#111" stroke-width="0.8" fill="#444"/>
<circle cx="508" cy="210.2" r="1.6" stroke="#111" stroke-width="0.8" fill="#444"/>
<circle cx="548.3" cy="206.3" r="0.6" stroke="none" stroke-width="0" fill="#222"/>
<rect x="483.6" y="218.4" width="4.6" height="41" stroke="#666" stroke-width="1" fill="#eee"/>
<line x1="477" y1="218" x2="477" y2="293" stroke="#c0c0c0" stroke-width="1.3"/>
<line x1="510.8" y1="218" x2="510.8" y2="293" stroke="#c0c0c0" stroke-width="1.3"/>
<line x1="626.3" y1="173" x2="626.3" y2="293" stroke="#c0c0c0" stroke-width="1.3"/>
<line x1="480" y1="243.8" x2="545" y2="243.8" stroke="#c0c0c0" stroke-width="1.3"/>
<polygon points="483.1,243.8 476.5,242.55 476.5,245.05" fill="#111"/>
<polygon points="511.7,243.8 518.3,242.55 518.3,245.05" fill="#111"/>
<text transform="translate(533 238)" font-size="11" text-anchor="middle" fill="#2b2b2b" dy=".36em">35.5</text>
<line x1="483.8" y1="260" x2="483.8" y2="276" stroke="#c0c0c0" stroke-width="1.3"/>
<line x1="488.3" y1="260" x2="488.3" y2="276" stroke="#c0c0c0" stroke-width="1.3"/>
<line x1="473.5" y1="274.5" x2="506.5" y2="274.5" stroke="#c0c0c0" stroke-width="1.3"/>
<polygon points="482.9,274.5 476.3,273.25 476.3,275.75" fill="#111"/>
<polygon points="489.2,274.5 495.8,273.25 495.8,275.75" fill="#111"/>
<text transform="translate(502.5 269.8)" font-size="11" text-anchor="middle" fill="#2b2b2b" dy=".36em">7</text>
<line x1="477" y1="291.3" x2="510.8" y2="291.3" stroke="#c0c0c0" stroke-width="1.3"/>
<polygon points="477.9,291.3 484.5,290.05 484.5,292.55" fill="#111"/>
<polygon points="509.9,291.3 503.3,290.05 503.3,292.55" fill="#111"/>
<text transform="translate(494.3 285.8)" font-size="11" text-anchor="middle" fill="#2b2b2b" dy=".36em">52</text>
<line x1="510.8" y1="291.3" x2="626.3" y2="291.3" stroke="#c0c0c0" stroke-width="1.3"/>
<polygon points="511.7,291.3 518.3,290.05 518.3,292.55" fill="#111"/>
<polygon points="625.4,291.3 618.8,290.05 618.8,292.55" fill="#111"/>
<text transform="translate(571.3 285.8)" font-size="11" text-anchor="middle" fill="#2b2b2b" dy=".36em">202</text>
<text transform="translate(559.6 284)" font-size="12.5" text-anchor="middle" font-weight="bold" fill="#9a2a1c" dy=".46em">*</text>
<text transform="translate(533 309.5)" font-size="11" text-anchor="start" fill="#2b2b2b" dy=".36em">带刹车加长36.5。</text>
<text transform="translate(530 308)" font-size="12.5" text-anchor="middle" font-weight="bold" fill="#9a2a1c" dy=".46em">*</text>
<path d="M628.8 56.3 L636.3 43 H677.5" stroke="#aaa" stroke-width="0.9" fill="none" />
<text transform="translate(639.5 35)" font-size="11.5" text-anchor="start" fill="#2b2b2b" dy=".36em"><tspan fill="#72100b" font-weight="bold">B</tspan>(转角)</text>
<path d="M622.5 127.5 L631.3 114.3 H672" stroke="#aaa" stroke-width="0.9" fill="none" />
<text transform="translate(633.8 107)" font-size="11.5" text-anchor="start" fill="#2b2b2b" dy=".36em"><tspan fill="#72100b" font-weight="bold">A</tspan>(通用)</text>
<text transform="translate(46.5 337.5)" font-size="11" text-anchor="start" fill="#2b2b2b" dy=".36em">规格：100</text>
<line x1="213" y1="338" x2="213" y2="428" stroke="#c0c0c0" stroke-width="1.3"/>
<line x1="357" y1="338" x2="357" y2="428" stroke="#c0c0c0" stroke-width="1.3"/>
<line x1="267.5" y1="353.5" x2="267.5" y2="372" stroke="#c0c0c0" stroke-width="1.3"/>
<line x1="302.3" y1="353.5" x2="302.3" y2="372" stroke="#c0c0c0" stroke-width="1.3"/>
<line x1="155" y1="372.5" x2="267" y2="372.5" stroke="#c0c0c0" stroke-width="1.3"/>
<line x1="170.5" y1="429.3" x2="211.5" y2="429.3" stroke="#c0c0c0" stroke-width="1.3"/>
<line x1="155" y1="530.5" x2="211.5" y2="530.5" stroke="#c0c0c0" stroke-width="1.3"/>
<line x1="155" y1="565" x2="280" y2="565" stroke="#a8a8a8" stroke-width="1.2"/>
<line x1="155" y1="614.5" x2="249" y2="614.5" stroke="#c0c0c0" stroke-width="1.3"/>
<line x1="200.5" y1="614.5" x2="249" y2="614.5" stroke="#777" stroke-width="1.6"/>
<line x1="213" y1="340.5" x2="357" y2="340.5" stroke="#c0c0c0" stroke-width="1.3"/>
<polygon points="213.9,340.5 220.5,339.25 220.5,341.75" fill="#111"/>
<polygon points="356.1,340.5 349.5,339.25 349.5,341.75" fill="#111"/>
<text transform="translate(285 335)" font-size="11" text-anchor="middle" fill="#2b2b2b" dy=".36em">253</text>
<line x1="267.5" y1="356.3" x2="302.3" y2="356.3" stroke="#c0c0c0" stroke-width="1.3"/>
<polygon points="268.4,356.3 275,355.05 275,357.55" fill="#111"/>
<polygon points="301.4,356.3 294.8,355.05 294.8,357.55" fill="#111"/>
<text transform="translate(285 351.3)" font-size="11" text-anchor="middle" fill="#2b2b2b" dy=".36em">60</text>
<line x1="157" y1="372.5" x2="157" y2="530.5" stroke="#c0c0c0" stroke-width="1.3"/>
<polygon points="157,373.4 155.75,380 158.25,380" fill="#111"/>
<polygon points="157,529.6 155.75,523 158.25,523" fill="#111"/>
<text transform="translate(151.8 448.4) rotate(-90)" font-size="11" text-anchor="middle" fill="#2b2b2b" dy=".36em">276.5</text>
<text transform="translate(150 464.8) rotate(-90)" font-size="12.5" text-anchor="middle" font-weight="bold" fill="#9a2a1c" dy=".46em">*</text>
<line x1="173" y1="429.3" x2="173" y2="530.5" stroke="#c0c0c0" stroke-width="1.3"/>
<polygon points="173,430.2 171.75,436.8 174.25,436.8" fill="#111"/>
<polygon points="173,529.6 171.75,523 174.25,523" fill="#111"/>
<text transform="translate(167.6 480) rotate(-90)" font-size="11" text-anchor="middle" fill="#2b2b2b" dy=".36em">176.5</text>
<line x1="157" y1="530.5" x2="157" y2="565" stroke="#c0c0c0" stroke-width="1.3"/>
<polygon points="157,531.4 155.75,538 158.25,538" fill="#111"/>
<polygon points="157,564.1 155.75,557.5 158.25,557.5" fill="#111"/>
<text transform="translate(151.6 548) rotate(-90)" font-size="11" text-anchor="middle" fill="#2b2b2b" dy=".36em">54.5</text>
<line x1="157" y1="565" x2="157" y2="614.5" stroke="#c0c0c0" stroke-width="1.3"/>
<polygon points="157,565.9 155.75,572.5 158.25,572.5" fill="#111"/>
<polygon points="157,613.6 155.75,607 158.25,607" fill="#111"/>
<text transform="translate(151.6 589.5) rotate(-90)" font-size="11" text-anchor="middle" fill="#2b2b2b" dy=".36em">86</text>
<line x1="188.8" y1="490" x2="188.8" y2="540" stroke="#c0c0c0" stroke-width="1.3"/>
<polygon points="188.8,521.6 187.55,515 190.05,515" fill="#111"/>
<polygon points="188.8,531.4 187.55,538 190.05,538" fill="#111"/>
<text transform="translate(183.6 501.3) rotate(-90)" font-size="11" text-anchor="middle" fill="#2b2b2b" dy=".36em">12.5</text>
<line x1="204.5" y1="494.5" x2="204.5" y2="522.5" stroke="#c0c0c0" stroke-width="1.3"/>
<polygon points="204.5,495.4 203.25,502 205.75,502" fill="#111"/>
<polygon points="204.5,521.6 203.25,515 205.75,515" fill="#111"/>
<text transform="translate(199.2 508.8) rotate(-90)" font-size="11" text-anchor="middle" fill="#2b2b2b" dy=".36em">50</text>
<g transform="translate(284.9 372.3) scale(0.897 0.9) translate(-283.9 -45.3)">
<line x1="264.5" y1="45.3" x2="264.5" y2="118" stroke="#9a9a9a" stroke-width="1.5"/>
<line x1="303.3" y1="45.3" x2="303.3" y2="118" stroke="#9a9a9a" stroke-width="1.5"/>
<line x1="264.5" y1="45.3" x2="303.3" y2="45.3" stroke="#3c3c3c" stroke-width="1.1" stroke-dasharray="4 1.5 1 1.5"/>
<line x1="271.1" y1="47.3" x2="271.1" y2="104" stroke="#555" stroke-width="1" stroke-dasharray="5 1.5 1 1.5"/>
<line x1="296.7" y1="47.3" x2="296.7" y2="104" stroke="#555" stroke-width="1" stroke-dasharray="5 1.5 1 1.5"/>
<line x1="277.5" y1="59.3" x2="277.5" y2="104" stroke="#555" stroke-width="0.9" stroke-dasharray="5 1.5 1 1.5"/>
<line x1="290.3" y1="59.3" x2="290.3" y2="104" stroke="#555" stroke-width="0.9" stroke-dasharray="5 1.5 1 1.5"/>
<path d="M276.7 46.3 h15 v6 l-3 3 h-9 l-3 -3 z" stroke="#3c3c3c" stroke-width="1" fill="none" />
<line x1="277.2" y1="49.8" x2="291.2" y2="49.8" stroke="#555" stroke-width="0.9"/>
<line x1="264.5" y1="59.8" x2="278.2" y2="59.8" stroke="#3c3c3c" stroke-width="1.1"/>
<line x1="290.2" y1="59.8" x2="303.3" y2="59.8" stroke="#3c3c3c" stroke-width="1.1"/>
<rect x="265" y="56.6" width="4" height="2.6" stroke="#333" stroke-width="0.8" fill="#fff" rx="1"/>
<rect x="298.8" y="56.6" width="4" height="2.6" stroke="#333" stroke-width="0.8" fill="#fff" rx="1"/>
<circle cx="279" cy="54.9" r="1.3" stroke="#333" stroke-width="0.8" fill="#fff"/>
<circle cx="289.4" cy="54.9" r="1.3" stroke="#333" stroke-width="0.8" fill="#fff"/>
<circle cx="284.2" cy="54.9" r="1.7" stroke="#333" stroke-width="0.8" fill="#777"/>
<rect x="280" y="58.1" width="8.4" height="8.6" stroke="#333" stroke-width="0.8" fill="#4a4a4a"/>
<circle cx="281.7" cy="59.7" r="0.75" stroke="none" stroke-width="0" fill="#fff"/>
<circle cx="281.7" cy="62.1" r="0.75" stroke="none" stroke-width="0" fill="#fff"/>
<circle cx="281.7" cy="64.5" r="0.75" stroke="none" stroke-width="0" fill="#fff"/>
<circle cx="284.2" cy="59.7" r="0.75" stroke="none" stroke-width="0" fill="#fff"/>
<circle cx="284.2" cy="62.1" r="0.75" stroke="none" stroke-width="0" fill="#fff"/>
<circle cx="284.2" cy="64.5" r="0.75" stroke="none" stroke-width="0" fill="#fff"/>
<circle cx="286.7" cy="59.7" r="0.75" stroke="none" stroke-width="0" fill="#fff"/>
<circle cx="286.7" cy="62.1" r="0.75" stroke="none" stroke-width="0" fill="#fff"/>
<circle cx="286.7" cy="64.5" r="0.75" stroke="none" stroke-width="0" fill="#fff"/>
<circle cx="275.2" cy="73.3" r="1.5" stroke="#333" stroke-width="0.8" fill="#fff"/>
<circle cx="293.2" cy="73.3" r="1.5" stroke="#333" stroke-width="0.8" fill="#fff"/>
<path d="M274.2 62.3 l-2 2 v3 M294.2 62.3 l2 2 v3" stroke="#555" stroke-width="0.9" fill="none" />
<path d="M272.7 76.3 v4 h8 M295.7 76.3 v4 h-8" stroke="#555" stroke-width="0.9" fill="none" stroke-dasharray="3 1.5" />
<line x1="264.5" y1="103.5" x2="303.3" y2="103.5" stroke="#3c3c3c" stroke-width="1.1" stroke-dasharray="3 1.5"/>
<line x1="264.5" y1="108.5" x2="303.3" y2="108.5" stroke="#555" stroke-width="1"/>
<rect x="292.7" y="106.4" width="3.5" height="1.8" stroke="#333" stroke-width="0.7" fill="#fff" rx="0.8"/>
<rect x="281.8" y="79.3" width="4.8" height="3.4" stroke="#333" stroke-width="0.9" fill="#fff"/>
<line x1="284.2" y1="79.3" x2="284.2" y2="82.7" stroke="#333" stroke-width="0.8"/>
<rect x="281" y="82.9" width="6.4" height="7.4" stroke="#111" stroke-width="0.8" fill="#3a3a3a"/>
<line x1="284.2" y1="83.3" x2="284.2" y2="90.3" stroke="#888" stroke-width="0.5"/>
<rect x="279.4" y="89.9" width="9.6" height="9.4" stroke="#111" stroke-width="1.4" fill="#fff" rx="0.8"/>
<circle cx="281.6" cy="92.5" r="1.2" stroke="#111" stroke-width="0.9" fill="#fff"/>
<line x1="283.2" y1="92.9" x2="286.7" y2="92.9" stroke="#111" stroke-width="1"/>
<path d="M284.2 99.3 l-2.2 2.6 l2.2 2.6 l2.2 -2.6 z" stroke="#111" stroke-width="0.8" fill="#333" />
<line x1="282.7" y1="103.3" x2="282.7" y2="128" stroke="#222" stroke-width="1.1"/>
<line x1="285.7" y1="103.3" x2="285.7" y2="128" stroke="#222" stroke-width="1.1"/>
<line x1="284.2" y1="103.3" x2="284.2" y2="128" stroke="#d8d8d8" stroke-width="1.6"/>
</g>
<path d="M213.2 429.8 H357 V448.3 A39.14 39.14 0 0 0 357 512.3 V530.6 H213.2 V512.3 A39.14 39.14 0 0 0 213.2 448.3 Z" stroke="#fff" stroke-width="3.6" fill="#eceeed" stroke-linejoin="miter"/>
<path d="M213.2 429.8 H357 V448.3 A39.14 39.14 0 0 0 357 512.3 V530.6 H213.2 V512.3 A39.14 39.14 0 0 0 213.2 448.3 Z" stroke="#161616" stroke-width="1.3" fill="none" stroke-linejoin="miter"/>
<line x1="285" y1="431" x2="285" y2="566" stroke="#b0b0b0" stroke-width="1.2" stroke-dasharray="14 2 2 2"/>
<line x1="267.5" y1="430" x2="267.5" y2="452" stroke="#aaa" stroke-width="1.4"/>
<line x1="302.6" y1="430" x2="302.6" y2="452" stroke="#aaa" stroke-width="1.4"/>
<line x1="271.5" y1="430" x2="271.5" y2="452" stroke="#bbb" stroke-width="0.8"/>
<line x1="298.6" y1="430" x2="298.6" y2="452" stroke="#bbb" stroke-width="0.8"/>
<line x1="267.5" y1="433.5" x2="302.6" y2="433.5" stroke="#aaa" stroke-width="0.8" stroke-dasharray="4 1.5"/>
<path d="M267.3 454.8 q0 -3 3 -3 H300 q3 0 3 3 V484.6 l-3 3 H270.3 l-3 -3 Z" stroke="#4a4a4a" stroke-width="1.2" fill="#efefef" />
<path d="M268.3 463.8 q16.85 7 33.7 0" stroke="#9a9a9a" stroke-width="0.9" fill="none" />
<line x1="275.3" y1="468" x2="295" y2="468" stroke="#aaa" stroke-width="1" stroke-dasharray="6 2"/>
<line x1="273.5" y1="453.8" x2="273.5" y2="484.6" stroke="#999" stroke-width="0.8" stroke-dasharray="5 1.5 1 1.5"/>
<line x1="296.5" y1="453.8" x2="296.5" y2="484.6" stroke="#999" stroke-width="0.8" stroke-dasharray="5 1.5 1 1.5"/>
<line x1="285" y1="453.8" x2="285" y2="493.6" stroke="#999" stroke-width="0.9" stroke-dasharray="6 1.5 1.2 1.5"/>
<path d="M273.5 452.2 v-4.5 q0 -3.4 3.4 -3.4 h16.2 q3.4 0 3.4 3.4 v4.5" stroke="#2a2a2a" stroke-width="1.1" fill="#efefef" />
<path d="M277.3 464.6 v-16 q0 -2.6 2.6 -2.6 h10.2 q2.6 0 2.6 2.6 v16" stroke="#4a4a4a" stroke-width="1.1" fill="none" />
<line x1="279" y1="448.4" x2="291" y2="448.4" stroke="#999" stroke-width="0.8"/>
<circle cx="271.1" cy="455.8" r="2.5" stroke="#1a1a1a" stroke-width="1" fill="#fff"/>
<circle cx="271.1" cy="455.8" r="1" stroke="none" stroke-width="0" fill="#111"/>
<circle cx="299.2" cy="455.8" r="2.5" stroke="#1a1a1a" stroke-width="1" fill="#fff"/>
<circle cx="299.2" cy="455.8" r="1" stroke="none" stroke-width="0" fill="#111"/>
<circle cx="271.1" cy="483.7" r="2.5" stroke="#1a1a1a" stroke-width="1" fill="#fff"/>
<circle cx="271.1" cy="483.7" r="1" stroke="none" stroke-width="0" fill="#111"/>
<circle cx="299.2" cy="483.7" r="2.5" stroke="#1a1a1a" stroke-width="1" fill="#fff"/>
<circle cx="299.2" cy="483.7" r="1" stroke="none" stroke-width="0" fill="#111"/>
<circle cx="269.9" cy="461.2" r="1.7" stroke="#1a1a1a" stroke-width="1" fill="#fff"/>
<circle cx="294.1" cy="454.6" r="1.7" stroke="#1a1a1a" stroke-width="1" fill="#fff"/>
<circle cx="276.3" cy="484.4" r="1.7" stroke="#1a1a1a" stroke-width="1" fill="#fff"/>
<circle cx="300.4" cy="478.6" r="1.7" stroke="#1a1a1a" stroke-width="1" fill="#fff"/>
<circle cx="299.6" cy="461.4" r="1.8" stroke="#bbb" stroke-width="0.6" fill="#fff"/>
<circle cx="293.7" cy="483.8" r="1.8" stroke="#bbb" stroke-width="0.6" fill="#fff"/>
<line x1="202" y1="494.5" x2="259" y2="494.5" stroke="#b0b0b0" stroke-width="1"/>
<line x1="186" y1="522.5" x2="259" y2="522.5" stroke="#b0b0b0" stroke-width="1"/>
<line x1="283.4" y1="420" x2="283.4" y2="445" stroke="#1a1a1a" stroke-width="1.2"/>
<line x1="286.6" y1="420" x2="286.6" y2="445" stroke="#1a1a1a" stroke-width="1.2"/>
<line x1="285" y1="430.5" x2="285" y2="445" stroke="#e4e4e4" stroke-width="1.8"/>
<circle cx="260.5" cy="494.5" r="1.5" stroke="#111" stroke-width="1" fill="#777"/>
<circle cx="260.5" cy="509" r="1.5" stroke="#111" stroke-width="1" fill="#777"/>
<circle cx="260.5" cy="522.5" r="1.6" stroke="#111" stroke-width="1" fill="#999"/>
<line x1="260.5" y1="497" x2="260.5" y2="507" stroke="#666" stroke-width="0.7" stroke-dasharray="2 1.2"/>
<circle cx="309" cy="494.5" r="1.5" stroke="#111" stroke-width="1" fill="#777"/>
<circle cx="309" cy="509" r="1.5" stroke="#111" stroke-width="1" fill="#777"/>
<circle cx="309" cy="522.5" r="1.6" stroke="#111" stroke-width="1" fill="#999"/>
<line x1="309" y1="497" x2="309" y2="507" stroke="#666" stroke-width="0.7" stroke-dasharray="2 1.2"/>
<circle cx="235" cy="522.3" r="1.3" stroke="none" stroke-width="0" fill="#222"/>
<circle cx="249.5" cy="522.3" r="1.3" stroke="none" stroke-width="0" fill="#222"/>
<circle cx="277.5" cy="522.3" r="1.3" stroke="none" stroke-width="0" fill="#222"/>
<circle cx="292" cy="522.3" r="1.3" stroke="none" stroke-width="0" fill="#222"/>
<circle cx="320.5" cy="522.3" r="1.3" stroke="none" stroke-width="0" fill="#222"/>
<circle cx="335" cy="522.3" r="1.3" stroke="none" stroke-width="0" fill="#222"/>
<path d="M253.5 484.8 l1.7 1.7 l-1.7 1.7 l-1.7 -1.7 z" stroke="none" stroke-width="0" fill="#1a1a1a" />
<path d="M316 484.8 l1.7 1.7 l-1.7 1.7 l-1.7 -1.7 z" stroke="none" stroke-width="0" fill="#1a1a1a" />
<path d="M232.6 479.7 l1.7 1.7 l-1.7 1.7 l-1.7 -1.7 z" stroke="none" stroke-width="0" fill="#1a1a1a" />
<path d="M236.6 479.7 l1.7 1.7 l-1.7 1.7 l-1.7 -1.7 z" stroke="none" stroke-width="0" fill="#1a1a1a" />
<path d="M333.5 479.7 l1.7 1.7 l-1.7 1.7 l-1.7 -1.7 z" stroke="none" stroke-width="0" fill="#1a1a1a" />
<path d="M337.5 479.7 l1.7 1.7 l-1.7 1.7 l-1.7 -1.7 z" stroke="none" stroke-width="0" fill="#1a1a1a" />
<circle cx="256.5" cy="455.7" r="3.2" stroke="#777" stroke-width="0.8" fill="#8a8a8a"/>
<circle cx="313.3" cy="455.7" r="3.2" stroke="#777" stroke-width="0.8" fill="#8a8a8a"/>
<path d="M262 444.8 l1.7 1.7 l-1.7 1.7 l-1.7 -1.7 z" stroke="none" stroke-width="0" fill="#1a1a1a" />
<path d="M307.5 444.8 l1.7 1.7 l-1.7 1.7 l-1.7 -1.7 z" stroke="none" stroke-width="0" fill="#1a1a1a" />
<circle cx="239.5" cy="461.5" r="0.6" stroke="none" stroke-width="0" fill="#222"/>
<circle cx="330.5" cy="461.5" r="0.6" stroke="none" stroke-width="0" fill="#222"/>
<circle cx="259.5" cy="441.5" r="0.5" stroke="none" stroke-width="0" fill="#222"/>
<circle cx="310.5" cy="441.5" r="0.5" stroke="none" stroke-width="0" fill="#222"/>
<line x1="260.5" y1="503.7" x2="309" y2="503.7" stroke="#a0a0a0" stroke-width="1"/>
<polygon points="261.4,503.7 268,502.45 268,504.95" fill="#111"/>
<polygon points="308.1,503.7 301.5,502.45 301.5,504.95" fill="#111"/>
<text transform="translate(284.8 498.4) scale(0.88 1)" font-size="12.3" text-anchor="middle" fill="#1a1a1a" dy=".36em" font-weight="bold">85</text>
<line x1="232" y1="531" x2="338" y2="531" stroke="#222" stroke-width="1.3"/>
<rect x="280" y="530.5" width="10" height="34" stroke="#222" stroke-width="1" fill="#eceeed"/>
<line x1="285" y1="530.5" x2="285" y2="564.5" stroke="#aaa" stroke-width="0.7" stroke-dasharray="5 1.5 1 1.5"/>
<circle cx="285" cy="541.8" r="1.7" stroke="#111" stroke-width="1" fill="#444"/>
<circle cx="285" cy="550.8" r="0.9" stroke="none" stroke-width="0" fill="#222"/>
<circle cx="285" cy="559.3" r="1.7" stroke="#111" stroke-width="1" fill="#444"/>
<line x1="229" y1="542" x2="279.5" y2="542" stroke="#c0c0c0" stroke-width="1.3"/>
<line x1="229" y1="559.3" x2="279.5" y2="559.3" stroke="#c0c0c0" stroke-width="1.3"/>
<line x1="254" y1="550.8" x2="279.5" y2="550.8" stroke="#c0c0c0" stroke-width="1.3"/>
<line x1="231.3" y1="542" x2="231.3" y2="559.3" stroke="#c0c0c0" stroke-width="1.3"/>
<polygon points="231.3,542.9 230.05,549.5 232.55,549.5" fill="#111"/>
<polygon points="231.3,558.4 230.05,551.8 232.55,551.8" fill="#111"/>
<text transform="translate(222.2 550.8) rotate(-90)" font-size="11" text-anchor="middle" fill="#2b2b2b" dy=".36em">30</text>
<line x1="255.8" y1="542" x2="255.8" y2="574" stroke="#c0c0c0" stroke-width="1.3"/>
<polygon points="255.8,542.9 254.55,549.5 257.05,549.5" fill="#111"/>
<polygon points="255.8,560.2 254.55,566.8 257.05,566.8" fill="#111"/>
<text transform="translate(250.6 577.2) rotate(-90)" font-size="11" text-anchor="middle" fill="#2b2b2b" dy=".36em">15</text>
<line x1="231.3" y1="559.3" x2="231.3" y2="589" stroke="#c0c0c0" stroke-width="1.3"/>
<polygon points="231.3,565.9 230.05,572.5 232.55,572.5" fill="#111"/>
<text transform="translate(226.8 579) rotate(-90)" font-size="11" text-anchor="middle" fill="#2b2b2b" dy=".36em">10</text>
<line x1="280" y1="565" x2="280" y2="583" stroke="#c0c0c0" stroke-width="1.3"/>
<line x1="290" y1="565" x2="290" y2="583" stroke="#c0c0c0" stroke-width="1.3"/>
<line x1="270" y1="580.5" x2="299.5" y2="580.5" stroke="#c0c0c0" stroke-width="1.3"/>
<polygon points="279.1,580.5 272.5,579.25 272.5,581.75" fill="#111"/>
<polygon points="290.9,580.5 297.5,579.25 297.5,581.75" fill="#111"/>
<text transform="translate(284.6 575.2) scale(0.9 1)" font-size="10.5" text-anchor="middle" fill="#2b2b2b" dy=".36em">18</text>
<path d="M256 614.5 V594.5 A29 29 0 0 1 314 594.5 V614.5" stroke="#8c8c8c" stroke-width="0.9" fill="none" stroke-dasharray="6 1.5 1.2 1.5" />
<rect x="250.4" y="595" width="10.6" height="19.5" stroke="#9a9a9a" stroke-width="0.8" fill="none" stroke-dasharray="2.2 1.3"/>
<line x1="254" y1="595" x2="254" y2="614.5" stroke="#aaa" stroke-width="0.7" stroke-dasharray="2.2 1.3"/>
<rect x="308.4" y="595" width="10.6" height="19.5" stroke="#9a9a9a" stroke-width="0.8" fill="none" stroke-dasharray="2.2 1.3"/>
<line x1="312" y1="595" x2="312" y2="614.5" stroke="#aaa" stroke-width="0.7" stroke-dasharray="2.2 1.3"/>
<line x1="255.8" y1="615" x2="255.8" y2="633" stroke="#c0c0c0" stroke-width="1.3"/>
<line x1="314" y1="615" x2="314" y2="633" stroke="#c0c0c0" stroke-width="1.3"/>
<line x1="255.8" y1="630" x2="314" y2="630" stroke="#c0c0c0" stroke-width="1.3"/>
<polygon points="256.7,630 263.3,628.75 263.3,631.25" fill="#111"/>
<polygon points="313.1,630 306.5,628.75 306.5,631.25" fill="#111"/>
<text transform="translate(284.3 624.3)" font-size="11" text-anchor="middle" fill="#2b2b2b" dy=".36em">100</text>
<line x1="198" y1="597" x2="250" y2="597" stroke="#c0c0c0" stroke-width="1.3"/>
<line x1="200.8" y1="587.5" x2="200.8" y2="644" stroke="#c0c0c0" stroke-width="1.3"/>
<polygon points="200.8,596.1 199.55,589.5 202.05,589.5" fill="#111"/>
<polygon points="200.8,615.4 199.55,622 202.05,622" fill="#111"/>
<text transform="translate(195 632.5) rotate(-90)" font-size="11" text-anchor="middle" fill="#2b2b2b" dy=".36em">32</text>
<text transform="translate(208.7 632.5) rotate(-90)" font-size="11" text-anchor="middle" fill="#2b2b2b" dy=".36em">(Za)</text>
<line x1="232" y1="602.5" x2="232" y2="632.5" stroke="#c0c0c0" stroke-width="1.3"/>
<polygon points="232,611.6 230.75,605 233.25,605" fill="#111"/>
<polygon points="232,615.4 230.75,622 233.25,622" fill="#111"/>
<text transform="translate(228 628.8) rotate(-90)" font-size="11" text-anchor="middle" fill="#2b2b2b" dy=".36em">2</text>
<path d="M310.67 493.07 L363.8 447.7 H432.5" stroke="#b4b4b4" stroke-width="1.2" fill="none" />
<polygon points="310.67,493.07 314.71,487.79 316.52,489.91" fill="#111"/>
<text transform="translate(365.5 441.3)" font-size="11" text-anchor="start" fill="#2b2b2b" dy=".36em">4-M6(安装孔)</text>
<path d="M310.77 507.69 L363.3 468.9 H442.5" stroke="#b4b4b4" stroke-width="1.2" fill="none" />
<polygon points="310.77,507.69 315.17,502.71 316.83,504.96" fill="#111"/>
<text transform="translate(367.5 461.6)" font-size="11" text-anchor="start" fill="#2b2b2b" dy=".36em" letter-spacing="0.2">2-Ø5</text>
<text transform="translate(395.5 457.7)" font-size="7.5" text-anchor="start" fill="#2b2b2b" dy=".36em">+</text>
<text transform="translate(399.7 457.7)" font-size="7.4" text-anchor="start" fill="#2b2b2b" dy=".36em">0.012</text>
<text transform="translate(399.7 464.3)" font-size="7.4" text-anchor="start" fill="#2b2b2b" dy=".36em">0</text>
<text transform="translate(419.5 462.2)" font-size="11" text-anchor="start" fill="#2b2b2b" dy=".36em">销孔</text>
<line x1="311" y1="509" x2="375" y2="509" stroke="#c0c0c0" stroke-width="1.3"/>
<line x1="358" y1="530.5" x2="375" y2="530.5" stroke="#c0c0c0" stroke-width="1.3"/>
<line x1="372.5" y1="475" x2="372.5" y2="540" stroke="#c0c0c0" stroke-width="1.3"/>
<polygon points="372.5,508.1 371.25,501.5 373.75,501.5" fill="#111"/>
<polygon points="372.5,531.4 371.25,538 373.75,538" fill="#111"/>
<text transform="translate(367.2 486.3) rotate(-90)" font-size="11" text-anchor="middle" fill="#2b2b2b" dy=".36em">37.5</text>
<path d="M310.82 523.74 L358.8 556.4 H449.3" stroke="#b4b4b4" stroke-width="1.2" fill="none" />
<polygon points="310.82,523.74 316.98,526.24 315.4,528.55" fill="#111"/>
<text transform="translate(358.8 549.5)" font-size="11" text-anchor="start" fill="#2b2b2b" dy=".36em">可配机构安装组件</text>
<text transform="translate(403 565)" font-size="11" text-anchor="middle" fill="#2b2b2b" dy=".36em">(50系列)</text>
<path d="M287.03 542.65 L305 550.2 H332" stroke="#b4b4b4" stroke-width="1.2" fill="none" />
<polygon points="287.03,542.65 293.56,543.88 292.48,546.46" fill="#111"/>
<text transform="translate(305 544) scale(0.6 1)" font-size="11" text-anchor="start" fill="#2b2b2b" dy=".36em">2-Ø3.5通</text>
<text transform="translate(302 558.5) scale(0.76 1)" font-size="11" text-anchor="start" fill="#2b2b2b" dy=".36em">(连接载体)</text>
<path d="M285.38 551.12 L323.8 583.9 H391.3" stroke="#b4b4b4" stroke-width="1.2" fill="none" />
<polygon points="285.38,551.12 291.61,554.6 289.8,556.73" fill="#111"/>
<text transform="translate(327.5 577)" font-size="11" text-anchor="start" fill="#2b2b2b" dy=".36em" letter-spacing="0.2">Ø3</text>
<text transform="translate(343.7 573.1)" font-size="7.5" text-anchor="start" fill="#2b2b2b" dy=".36em">+</text>
<text transform="translate(347.9 573.1)" font-size="7.4" text-anchor="start" fill="#2b2b2b" dy=".36em">0.012</text>
<text transform="translate(347.9 579.7)" font-size="7.4" text-anchor="start" fill="#2b2b2b" dy=".36em">0</text>
<text transform="translate(367.7 577.6)" font-size="11" text-anchor="start" fill="#2b2b2b" dy=".36em">销孔</text>
<line x1="477.5" y1="354" x2="477.5" y2="429" stroke="#c0c0c0" stroke-width="1.3"/>
<line x1="579.3" y1="354" x2="579.3" y2="380" stroke="#c0c0c0" stroke-width="1.3"/>
<line x1="477.5" y1="356.3" x2="579.3" y2="356.3" stroke="#c0c0c0" stroke-width="1.3"/>
<polygon points="478.4,356.3 485,355.05 485,357.55" fill="#111"/>
<polygon points="578.4,356.3 571.8,355.05 571.8,357.55" fill="#111"/>
<text transform="translate(528 351.3)" font-size="11" text-anchor="middle" fill="#2b2b2b" dy=".36em">198.7</text>
<g transform="translate(507.5 451.4) scale(0.89 0.89) translate(-510.8 -134.5)">
<path d="M544.8 134 V47 q0 -2 2 -2 H581.5 q2 0 2 2 V134" stroke="#505050" stroke-width="1.35" fill="#fff" stroke-dasharray="5 1.5 1 1.5" />
<line x1="544.5" y1="45.3" x2="584" y2="45.3" stroke="#505050" stroke-width="1.35" stroke-dasharray="5 1.5 1 1.5"/>
<path d="M584 47 q4 2 5.5 6 l1.6 6 V82" stroke="#666" stroke-width="1.2" fill="none" />
<path d="M584 62 l5 5 V80" stroke="#666" stroke-width="1.2" fill="none" />
<line x1="551.3" y1="46" x2="551.3" y2="134" stroke="#505050" stroke-width="1.2" stroke-dasharray="5 1.5 1 1.5"/>
<line x1="577.5" y1="46" x2="577.5" y2="103" stroke="#505050" stroke-width="1.2" stroke-dasharray="5 1.5 1 1.5"/>
<line x1="544.5" y1="60" x2="584" y2="60" stroke="#505050" stroke-width="1.2" stroke-dasharray="5 1.5 1 1.5"/>
<line x1="544.5" y1="57.5" x2="584" y2="57.5" stroke="#666" stroke-width="1.05"/>
<rect x="546" y="57" width="3.4" height="2.6" stroke="#3a3a3a" stroke-width="1.05" fill="#fff" rx="0.6"/>
<rect x="573.5" y="57" width="3.4" height="2.6" stroke="#3a3a3a" stroke-width="1.05" fill="#fff" rx="0.6"/>
<line x1="544.5" y1="68" x2="591" y2="68" stroke="#666" stroke-width="0.7" stroke-dasharray="5 1.5 1 1.5"/>
<line x1="544.5" y1="103.5" x2="584" y2="103.5" stroke="#505050" stroke-width="1.35" stroke-dasharray="5 1.5 1 1.5"/>
<line x1="544.5" y1="108" x2="584" y2="108" stroke="#505050" stroke-width="1.2"/>
<rect x="573.5" y="105.8" width="3.2" height="1.8" stroke="#3a3a3a" stroke-width="1.05" fill="#fff" rx="0.6"/>
<line x1="544.5" y1="120.5" x2="584" y2="120.5" stroke="#505050" stroke-width="1.2"/>
<line x1="544.5" y1="124" x2="584" y2="124" stroke="#505050" stroke-width="1.05" stroke-dasharray="5 1.5 1 1.5"/>
<line x1="552" y1="108" x2="552" y2="134" stroke="#666" stroke-width="1.05" stroke-dasharray="5 1.5 1 1.5"/>
<circle cx="557" cy="116" r="2.5" stroke="#3a3a3a" stroke-width="1.05" fill="#fff"/>
<line x1="555.4" y1="117.6" x2="558.6" y2="114.4" stroke="#3a3a3a" stroke-width="1.05"/>
<rect x="586.5" y="71.5" width="4" height="4" stroke="#3a3a3a" stroke-width="1.05" fill="#fff"/>
<path d="M591 50 q3 6 9 7.5 l10 2.5 v3.4 l-11 -2.4 q-6 -1.5 -9 -6.5" stroke="#505050" stroke-width="0.9" fill="#fff" />
<rect x="609.3" y="59.3" width="4.2" height="3.6" stroke="#777" stroke-width="0.8" fill="#fff" rx="1.2"/>
<line x1="613.5" y1="61" x2="618" y2="61" stroke="#444" stroke-width="0.9"/>
<rect x="618" y="57.8" width="9.6" height="9.2" stroke="#3a3a3a" stroke-width="1" fill="#fff"/>
<rect x="627.6" y="59.5" width="5.4" height="6" stroke="#3a3a3a" stroke-width="0.9" fill="#fff" rx="1"/>
<line x1="627.6" y1="62.5" x2="633" y2="62.5" stroke="#3a3a3a" stroke-width="0.7"/>
<path d="M621 57.8 l2 -2 l1.5 1.2 l2 -1.5 l1.5 2.3" stroke="#3a3a3a" stroke-width="0.8" fill="none" />
<path d="M589 86.6 H621 M589 89.6 H621" stroke="#505050" stroke-width="0.9" fill="none" />
<line x1="616" y1="88" x2="622" y2="88" stroke="#444" stroke-width="0.9"/>
<rect x="622.3" y="84.8" width="9.4" height="6.4" stroke="#3a3a3a" stroke-width="1" fill="#fff"/>
<rect x="631.7" y="85.8" width="6" height="4.6" stroke="#3a3a3a" stroke-width="0.9" fill="#fff" rx="1"/>
<line x1="631.7" y1="88" x2="637.7" y2="88" stroke="#3a3a3a" stroke-width="0.7"/>
<path d="M624 84.8 l1.5 -1.6 l4.5 0.3 l1 1.3" stroke="#3a3a3a" stroke-width="0.8" fill="none" />
<rect x="581.3" y="82" width="7.6" height="5.5" stroke="#1c1c1c" stroke-width="1" fill="#fff"/>
<line x1="583.6" y1="82" x2="583.6" y2="87.5" stroke="#1c1c1c" stroke-width="0.9"/>
<line x1="586.3" y1="82" x2="586.3" y2="87.5" stroke="#1c1c1c" stroke-width="0.9"/>
<rect x="581" y="87.5" width="8.2" height="9" stroke="#1c1c1c" stroke-width="1.2" fill="#d8d8d8"/>
<line x1="585" y1="88" x2="585" y2="96" stroke="#1c1c1c" stroke-width="0.9"/>
<path d="M589.2 86 l1.6 5 l-1.6 4" stroke="#1c1c1c" stroke-width="0.9" fill="none" />
<rect x="583.3" y="96.5" width="3.6" height="4.2" stroke="#1c1c1c" stroke-width="0.9" fill="#555"/>
<path d="M585.1 101 V124 q0 7 7.5 7 H596" stroke="#1c1c1c" stroke-width="4.6" fill="none" />
<path d="M585.1 101 V124 q0 7 7.5 7 H596" stroke="#e4e4e4" stroke-width="2.4" fill="none" />
<line x1="582.8" y1="103.8" x2="587.4" y2="103.8" stroke="#1c1c1c" stroke-width="0.9"/>
<rect x="605.6" y="88" width="10.2" height="6.5" stroke="#1c1c1c" stroke-width="1" fill="#fff"/>
<line x1="608" y1="88" x2="608" y2="94.5" stroke="#1c1c1c" stroke-width="0.9"/>
<line x1="610.7" y1="88" x2="610.7" y2="94.5" stroke="#1c1c1c" stroke-width="0.9"/>
<line x1="613.4" y1="88" x2="613.4" y2="94.5" stroke="#1c1c1c" stroke-width="0.9"/>
<rect x="605.3" y="94.5" width="10.8" height="8.4" stroke="#1c1c1c" stroke-width="1.2" fill="#e4e4e4"/>
<path d="M616.4 92 l1.3 5.6 l-1.6 2.4" stroke="#1c1c1c" stroke-width="0.9" fill="none" />
<rect x="609" y="103" width="3.6" height="4.4" stroke="#1c1c1c" stroke-width="0.9" fill="#555"/>
<path d="M610.8 107.4 V118 q0 4 2 7 l2 4" stroke="#1c1c1c" stroke-width="4.2" fill="none" />
<path d="M610.8 107.4 V118 q0 4 2 7 l2 4" stroke="#e4e4e4" stroke-width="2.2" fill="none" />
<line x1="608.6" y1="110" x2="613" y2="110" stroke="#1c1c1c" stroke-width="0.9"/>
<rect x="511" y="134.5" width="115" height="38.5" stroke="none" stroke-width="0" fill="#ececec"/>
<rect x="511" y="134.5" width="21.5" height="38.5" stroke="#333" stroke-width="0.9" fill="#f1f1f1"/>
<rect x="514.8" y="136" width="17.8" height="6.2" stroke="#444" stroke-width="0.9" fill="#e2e2e2"/>
<rect x="514.8" y="165.4" width="17.8" height="6.2" stroke="#444" stroke-width="0.9" fill="#e2e2e2"/>
<line x1="515" y1="139" x2="532.5" y2="139" stroke="#777" stroke-width="0.8"/>
<line x1="515" y1="168.4" x2="532.5" y2="168.4" stroke="#777" stroke-width="0.8"/>
<line x1="511" y1="134.8" x2="533" y2="134.8" stroke="#333" stroke-width="1"/>
<line x1="511" y1="172.8" x2="533" y2="172.8" stroke="#333" stroke-width="1"/>
<rect x="511.4" y="135.6" width="3.2" height="6.4" stroke="#444" stroke-width="0.9" fill="#fff"/>
<rect x="511.4" y="165.4" width="3.2" height="6.4" stroke="#444" stroke-width="0.9" fill="#fff"/>
<line x1="517" y1="141" x2="517" y2="167" stroke="#999" stroke-width="0.8" stroke-dasharray="4 1.5"/>
<line x1="519.6" y1="141" x2="519.6" y2="167" stroke="#aaa" stroke-width="0.8" stroke-dasharray="4 1.5"/>
<path d="M532.5 134.5 H567 V173 H532.5 Z" stroke="#444" stroke-width="0.9" fill="#ededed" />
<rect x="532.5" y="134.5" width="6" height="5.5" stroke="#444" stroke-width="0.9" fill="#fff"/>
<rect x="532.5" y="167.5" width="6" height="5.5" stroke="#444" stroke-width="0.9" fill="#fff"/>
<path d="M538.5 140 H544 L548 135 M538.5 167.5 H544 L548 172.5" stroke="#444" stroke-width="0.9" fill="none" />
<path d="M545 135 l4.5 7.5 l4 -7.5 z" stroke="#444" stroke-width="0.9" fill="#f4f4f4" />
<path d="M553 168 L576 147 l4 3 L561 172" stroke="#555" stroke-width="0.9" fill="none" />
<path d="M548 165 h6 l3 5" stroke="#555" stroke-width="0.9" fill="none" />
<circle cx="578.6" cy="144.6" r="2.2" stroke="#777" stroke-width="0.8" fill="#fff"/>
<rect x="563.8" y="161.8" width="3" height="5" stroke="#222" stroke-width="0.9" fill="#fff"/>
<line x1="567" y1="134.5" x2="567" y2="173" stroke="#1c1c1c" stroke-width="1.5"/>
<rect x="567.5" y="134.8" width="58.5" height="38" stroke="#1c1c1c" stroke-width="1.3" fill="none"/>
<line x1="567.5" y1="137.6" x2="608.5" y2="137.6" stroke="#1c1c1c" stroke-width="1.5"/>
<line x1="567.5" y1="140.8" x2="608.5" y2="140.8" stroke="#1c1c1c" stroke-width="1"/>
<line x1="567.5" y1="166.5" x2="608.5" y2="166.5" stroke="#1c1c1c" stroke-width="1"/>
<line x1="567.5" y1="169.8" x2="608.5" y2="169.8" stroke="#1c1c1c" stroke-width="1.5"/>
<line x1="608.7" y1="134.8" x2="608.7" y2="172.8" stroke="#1c1c1c" stroke-width="1.3"/>
<line x1="611.2" y1="134.8" x2="611.2" y2="172.8" stroke="#444" stroke-width="0.8"/>
<rect x="609.2" y="136" width="2.6" height="3.4" stroke="#1c1c1c" stroke-width="0.8" fill="#fff"/>
<rect x="609.2" y="162.4" width="2.6" height="3.4" stroke="#1c1c1c" stroke-width="0.8" fill="#fff"/>
<line x1="624.2" y1="140" x2="624.2" y2="168" stroke="#555" stroke-width="0.8"/>
<path d="M592 134.5 V129.5 q0 -2.5 2.5 -2.5 H603 l4.5 4 V134.5" stroke="#1c1c1c" stroke-width="0.9" fill="#f2f2f2" />
<rect x="597.8" y="128.8" width="3" height="3.2" stroke="#1c1c1c" stroke-width="0.8" fill="#fff"/>
<path d="M609 134.5 v-3 q1 -4.5 7 -5 q7 0.5 9 5 v3" stroke="#1c1c1c" stroke-width="0.9" fill="#f2f2f2" />
<path d="M614 127.5 l2.5 -1.8 l3 1.4" stroke="#1c1c1c" stroke-width="0.8" fill="none" />
</g>
<rect x="477.5" y="429.5" width="30" height="101.3" stroke="#fff" stroke-width="3.2" fill="#eceeed"/>
<rect x="477.5" y="429.5" width="30" height="101.3" stroke="#3c3c3c" stroke-width="1.1" fill="none"/>
<path d="M507.5 448.8 H483.8 q-5.5 0 -5.5 5.5 V505.8 q0 5.5 5.5 5.5 H507.5" stroke="#444" stroke-width="1" fill="none" />
<circle cx="505" cy="438.8" r="1.5" stroke="#111" stroke-width="0.6" fill="#222"/>
<circle cx="505" cy="522" r="1.5" stroke="#111" stroke-width="0.6" fill="#222"/>
<rect x="483.8" y="531" width="3.4" height="34" stroke="#555" stroke-width="0.9" fill="#eee"/>
<line x1="497" y1="531.6" x2="504" y2="531.6" stroke="#333" stroke-width="1"/>
<line x1="477.5" y1="531" x2="477.5" y2="598" stroke="#c0c0c0" stroke-width="1.3"/>
<line x1="507.5" y1="531" x2="507.5" y2="598" stroke="#c0c0c0" stroke-width="1.3"/>
<line x1="610" y1="482" x2="610" y2="598" stroke="#c0c0c0" stroke-width="1.3"/>
<line x1="478.8" y1="548.8" x2="541.3" y2="548.8" stroke="#c0c0c0" stroke-width="1.3"/>
<polygon points="482.9,548.8 476.3,547.55 476.3,550.05" fill="#111"/>
<polygon points="508.4,548.8 515,547.55 515,550.05" fill="#111"/>
<text transform="translate(529.4 543.5)" font-size="11" text-anchor="middle" fill="#2b2b2b" dy=".36em">35.5</text>
<line x1="483.8" y1="565.5" x2="483.8" y2="582.5" stroke="#c0c0c0" stroke-width="1.3"/>
<line x1="487.2" y1="565.5" x2="487.2" y2="582.5" stroke="#c0c0c0" stroke-width="1.3"/>
<line x1="473" y1="580.8" x2="505" y2="580.8" stroke="#c0c0c0" stroke-width="1.3"/>
<polygon points="482.9,580.8 476.3,579.55 476.3,582.05" fill="#111"/>
<polygon points="488.1,580.8 494.7,579.55 494.7,582.05" fill="#111"/>
<text transform="translate(501.8 575.5)" font-size="11" text-anchor="middle" fill="#2b2b2b" dy=".36em">7</text>
<line x1="477.5" y1="596.3" x2="507.5" y2="596.3" stroke="#c0c0c0" stroke-width="1.3"/>
<polygon points="478.4,596.3 485,595.05 485,597.55" fill="#111"/>
<polygon points="506.6,596.3 500,595.05 500,597.55" fill="#111"/>
<text transform="translate(492.5 590.8)" font-size="11" text-anchor="middle" fill="#2b2b2b" dy=".36em">52</text>
<line x1="507.5" y1="596.3" x2="610" y2="596.3" stroke="#c0c0c0" stroke-width="1.3"/>
<polygon points="508.4,596.3 515,595.05 515,597.55" fill="#111"/>
<polygon points="609.1,596.3 602.5,595.05 602.5,597.55" fill="#111"/>
<text transform="translate(561.6 590.8)" font-size="11" text-anchor="middle" fill="#2b2b2b" dy=".36em">202</text>
<text transform="translate(549.8 589)" font-size="12.5" text-anchor="middle" font-weight="bold" fill="#9a2a1c" dy=".46em">*</text>
<text transform="translate(523.8 609.3)" font-size="11" text-anchor="start" fill="#2b2b2b" dy=".36em">带刹车加长36.5。</text>
<text transform="translate(520.8 607.6)" font-size="12.5" text-anchor="middle" font-weight="bold" fill="#9a2a1c" dy=".46em">*</text>
<path d="M611.3 382.5 L618.8 368.3 H660" stroke="#aaa" stroke-width="0.9" fill="none" />
<text transform="translate(621.3 361.3)" font-size="11.5" text-anchor="start" fill="#2b2b2b" dy=".36em"><tspan fill="#72100b" font-weight="bold">B</tspan>(转角)</text>
<path d="M607.5 452.5 L617 436.3 H660" stroke="#aaa" stroke-width="0.9" fill="none" />
<text transform="translate(620 429.3)" font-size="11.5" text-anchor="start" fill="#2b2b2b" dy=".36em"><tspan fill="#72100b" font-weight="bold">A</tspan>(通用)</text>
<path d="M700.5 616.3 L725 611.8 V636.3 L700.5 632 Z" stroke="#555" stroke-width="0.8" fill="none" />
<line x1="697" y1="624" x2="729" y2="624" stroke="#555" stroke-width="0.7" stroke-dasharray="6 1.5 1.5 1.5"/>
<circle cx="764.5" cy="624" r="12.4" stroke="#555" stroke-width="0.8" fill="none"/>
<circle cx="764.5" cy="624" r="7" stroke="#555" stroke-width="0.8" fill="none"/>
<line x1="749" y1="624" x2="780" y2="624" stroke="#555" stroke-width="0.7" stroke-dasharray="7 1.5 1.5 1.5"/>
<line x1="764.5" y1="608.5" x2="764.5" y2="640" stroke="#555" stroke-width="0.7" stroke-dasharray="7 1.5 1.5 1.5"/>
<text transform="translate(687 646.8)" font-size="11.5" text-anchor="start" fill="#2b2b2b" dy=".36em">视角标准：第一视角</text>
<rect x="3" y="657.3" width="795.3" height="39" stroke="none" stroke-width="0" fill="#eceeed"/>
<rect x="61" y="710.2" width="737.3" height="12.8" stroke="none" stroke-width="0" fill="#eceeed"/>
<line x1="60.6" y1="670.5" x2="60.6" y2="736.2" stroke="#fff" stroke-width="2.6"/>
<line x1="102.6" y1="657.3" x2="102.6" y2="736.2" stroke="#fff" stroke-width="2.6"/>
<line x1="160" y1="670.5" x2="160" y2="736.2" stroke="#fff" stroke-width="2.6"/>
<line x1="217.6" y1="670.5" x2="217.6" y2="736.2" stroke="#fff" stroke-width="2.6"/>
<line x1="275" y1="657.3" x2="275" y2="736.2" stroke="#fff" stroke-width="2.6"/>
<line x1="327.6" y1="657.3" x2="327.6" y2="736.2" stroke="#fff" stroke-width="2.6"/>
<line x1="379.2" y1="657.3" x2="379.2" y2="736.2" stroke="#fff" stroke-width="2.6"/>
<line x1="432" y1="657.3" x2="432" y2="736.2" stroke="#fff" stroke-width="2.6"/>
<line x1="484.6" y1="657.3" x2="484.6" y2="736.2" stroke="#fff" stroke-width="2.6"/>
<line x1="536.2" y1="683.8" x2="536.2" y2="736.2" stroke="#fff" stroke-width="2.6"/>
<line x1="588.2" y1="657.3" x2="588.2" y2="736.2" stroke="#fff" stroke-width="2.6"/>
<line x1="641.2" y1="657.3" x2="641.2" y2="736.2" stroke="#fff" stroke-width="2.6"/>
<line x1="694" y1="657.3" x2="694" y2="736.2" stroke="#fff" stroke-width="2.6"/>
<line x1="746.2" y1="657.3" x2="746.2" y2="736.2" stroke="#fff" stroke-width="2.6"/>
<line x1="3" y1="657.3" x2="798.3" y2="657.3" stroke="#fff" stroke-width="2.6"/>
<line x1="3" y1="670.5" x2="275" y2="670.5" stroke="#fff" stroke-width="2.6"/>
<line x1="432" y1="683.8" x2="588.2" y2="683.8" stroke="#fff" stroke-width="2.6"/>
<line x1="3" y1="696.3" x2="798.3" y2="696.3" stroke="#fff" stroke-width="2.6"/>
<line x1="60.6" y1="710.2" x2="102.6" y2="710.2" stroke="#fff" stroke-width="2.6"/>
<line x1="60.6" y1="723" x2="102.6" y2="723" stroke="#fff" stroke-width="2.6"/>
<line x1="160" y1="710.2" x2="217.6" y2="710.2" stroke="#fff" stroke-width="2.6"/>
<line x1="432" y1="710.2" x2="588.2" y2="710.2" stroke="#fff" stroke-width="2.6"/>
<line x1="432" y1="723" x2="588.2" y2="723" stroke="#fff" stroke-width="2.6"/>
<line x1="641.2" y1="710.2" x2="798.3" y2="710.2" stroke="#fff" stroke-width="2.6"/>
<line x1="641.2" y1="723" x2="798.3" y2="723" stroke="#fff" stroke-width="2.6"/>
<line x1="3" y1="736.2" x2="798.3" y2="736.2" stroke="#fff" stroke-width="2.6"/>
<line x1="60.6" y1="670.5" x2="60.6" y2="736.2" stroke="#7c7c7c" stroke-width="1.1"/>
<line x1="102.6" y1="657.3" x2="102.6" y2="736.2" stroke="#7c7c7c" stroke-width="1.1"/>
<line x1="160" y1="670.5" x2="160" y2="736.2" stroke="#9a9a9a" stroke-width="1.1"/>
<line x1="217.6" y1="670.5" x2="217.6" y2="736.2" stroke="#9a9a9a" stroke-width="1.1"/>
<line x1="275" y1="657.3" x2="275" y2="736.2" stroke="#7c7c7c" stroke-width="1.1"/>
<line x1="327.6" y1="657.3" x2="327.6" y2="736.2" stroke="#7c7c7c" stroke-width="1.1"/>
<line x1="379.2" y1="657.3" x2="379.2" y2="736.2" stroke="#7c7c7c" stroke-width="1.1"/>
<line x1="432" y1="657.3" x2="432" y2="736.2" stroke="#7c7c7c" stroke-width="1.1"/>
<line x1="484.6" y1="657.3" x2="484.6" y2="736.2" stroke="#7c7c7c" stroke-width="1.1"/>
<line x1="536.2" y1="683.8" x2="536.2" y2="736.2" stroke="#9a9a9a" stroke-width="1.1"/>
<line x1="588.2" y1="657.3" x2="588.2" y2="736.2" stroke="#7c7c7c" stroke-width="1.1"/>
<line x1="641.2" y1="657.3" x2="641.2" y2="736.2" stroke="#7c7c7c" stroke-width="1.1"/>
<line x1="694" y1="657.3" x2="694" y2="736.2" stroke="#7c7c7c" stroke-width="1.1"/>
<line x1="746.2" y1="657.3" x2="746.2" y2="736.2" stroke="#7c7c7c" stroke-width="1.1"/>
<line x1="3" y1="657.3" x2="798.3" y2="657.3" stroke="#5c5c5c" stroke-width="1.4"/>
<line x1="3" y1="670.5" x2="275" y2="670.5" stroke="#7c7c7c" stroke-width="1.1"/>
<line x1="432" y1="683.8" x2="588.2" y2="683.8" stroke="#9a9a9a" stroke-width="1.1"/>
<line x1="3" y1="696.3" x2="798.3" y2="696.3" stroke="#7c7c7c" stroke-width="1.1"/>
<line x1="60.6" y1="710.2" x2="102.6" y2="710.2" stroke="#7c7c7c" stroke-width="1.1"/>
<line x1="60.6" y1="723" x2="102.6" y2="723" stroke="#7c7c7c" stroke-width="1.1"/>
<line x1="160" y1="710.2" x2="217.6" y2="710.2" stroke="#7c7c7c" stroke-width="1.1"/>
<line x1="432" y1="710.2" x2="588.2" y2="710.2" stroke="#9a9a9a" stroke-width="1.1"/>
<line x1="432" y1="723" x2="588.2" y2="723" stroke="#9a9a9a" stroke-width="1.1"/>
<line x1="641.2" y1="710.2" x2="798.3" y2="710.2" stroke="#9a9a9a" stroke-width="1.1"/>
<line x1="641.2" y1="723" x2="798.3" y2="723" stroke="#9a9a9a" stroke-width="1.1"/>
<line x1="3" y1="736.2" x2="798.3" y2="736.2" stroke="#5c5c5c" stroke-width="1.3"/>
<text transform="translate(52.6 664.8)" font-size="11.4" text-anchor="middle" fill="#3c3c3c" dy=".36em" font-weight="500" letter-spacing="0.2">型号</text>
<text transform="translate(189 664.8)" font-size="11.4" text-anchor="middle" fill="#3c3c3c" dy=".36em" font-weight="500" letter-spacing="0.2">电机选择</text>
<text transform="translate(31.8 683.6)" font-size="11.4" text-anchor="middle" fill="#3c3c3c" dy=".36em" font-weight="500" letter-spacing="0.2">代码</text>
<text transform="translate(81.6 683.6)" font-size="11.4" text-anchor="middle" fill="#3c3c3c" dy=".36em" font-weight="500" letter-spacing="0.2">规格</text>
<text transform="translate(131.3 677.2)" font-size="11.4" text-anchor="middle" fill="#3c3c3c" dy=".36em" font-weight="500" letter-spacing="0.2">适配</text>
<text transform="translate(131.3 690.2)" font-size="11.4" text-anchor="middle" fill="#3c3c3c" dy=".36em" font-weight="500" letter-spacing="0.2">伺服品牌</text>
<text transform="translate(188.8 678.6)" font-size="11.4" text-anchor="middle" fill="#3c3c3c" dy=".36em" font-weight="500" letter-spacing="0.2">电机功率</text>
<text transform="translate(188.8 689.6)" font-size="12" text-anchor="middle" fill="#3c3c3c" dy=".36em" font-weight="500" letter-spacing="0.2">W</text>
<text transform="translate(246.3 684.3)" font-size="11.4" text-anchor="middle" fill="#3c3c3c" dy=".36em" font-weight="500" letter-spacing="0.2">刹车形式</text>
<text transform="translate(301.3 670.3)" font-size="11.4" text-anchor="middle" fill="#3c3c3c" dy=".36em" font-weight="500" letter-spacing="0.2">减速机</text>
<text transform="translate(301.3 685)" font-size="11.4" text-anchor="middle" fill="#3c3c3c" dy=".36em" font-weight="500" letter-spacing="0.2">连接方式</text>
<text transform="translate(354.6 677.6)" font-size="11.4" text-anchor="middle" fill="#3c3c3c" dy=".36em" font-weight="500" letter-spacing="0.2">减速比</text>
<text transform="translate(406.2 677)" font-size="11.4" text-anchor="middle" fill="#3c3c3c" dy=".36em" font-weight="500" letter-spacing="0.5">输出信号</text>
<text transform="translate(458.3 664.9)" font-size="11.4" text-anchor="middle" fill="#3c3c3c" dy=".36em" font-weight="500" letter-spacing="0.2">最大</text>
<text transform="translate(458.3 677.2)" font-size="11.4" text-anchor="middle" fill="#3c3c3c" dy=".36em" font-weight="500" letter-spacing="0.2">直线行程</text>
<text transform="translate(458.3 690.8)" font-size="11.4" text-anchor="middle" fill="#3c3c3c" dy=".36em" font-weight="500" letter-spacing="0.2">X轴</text>
<text transform="translate(536.3 670.5)" font-size="11.4" text-anchor="middle" fill="#3c3c3c" dy=".36em" font-weight="500" letter-spacing="0.2">Z轴行程</text>
<text transform="translate(510.3 690.6)" font-size="11.4" text-anchor="middle" fill="#3c3c3c" dy=".36em" font-weight="500" letter-spacing="0.2">Z轴</text>
<text transform="translate(562.5 690.6)" font-size="12" text-anchor="middle" fill="#3c3c3c" dy=".36em" font-weight="500" letter-spacing="0.2">Za</text>
<text transform="translate(614.6 671.2)" font-size="11.4" text-anchor="middle" fill="#3c3c3c" dy=".36em" font-weight="500" letter-spacing="0.2">重复</text>
<text transform="translate(614.6 683.6)" font-size="11.4" text-anchor="middle" fill="#3c3c3c" dy=".36em" font-weight="500" letter-spacing="0.2">定位精度</text>
<text transform="translate(667.5 664.9)" font-size="11.4" text-anchor="middle" fill="#3c3c3c" dy=".36em" font-weight="500" letter-spacing="0.2">最小</text>
<text transform="translate(667.5 677.2)" font-size="11.4" text-anchor="middle" fill="#3c3c3c" dy=".36em" font-weight="500" letter-spacing="0.2">循环时间</text>
<text transform="translate(667.5 689.8)" font-size="12" text-anchor="middle" fill="#3c3c3c" dy=".36em" font-weight="500" letter-spacing="0.2">(s)</text>
<text transform="translate(720 671.2)" font-size="11.4" text-anchor="middle" fill="#3c3c3c" dy=".36em" font-weight="500" letter-spacing="0.2">最大扭矩</text>
<text transform="translate(720 683.3)" font-size="12" text-anchor="middle" fill="#3c3c3c" dy=".36em" font-weight="500" letter-spacing="0.2">(N/m)</text>
<text transform="translate(772.6 671.2)" font-size="11.4" text-anchor="middle" fill="#3c3c3c" dy=".36em" font-weight="500" letter-spacing="0.2">最大负载</text>
<text transform="translate(772.6 683.3)" font-size="12" text-anchor="middle" fill="#3c3c3c" dy=".36em" font-weight="500" letter-spacing="0.2">(Kg)</text>
<text transform="translate(30.6 717.6)" font-size="13.2" text-anchor="middle" fill="#72100b" dy=".36em" font-weight="bold" letter-spacing="0.45">SBC22</text>
<text transform="translate(82 703.8)" font-size="11.5" text-anchor="middle" fill="#72100b" dy=".36em" font-weight="bold" letter-spacing="0.45">50</text>
<text transform="translate(82 716.8)" font-size="11.5" text-anchor="middle" fill="#72100b" dy=".36em" font-weight="bold" letter-spacing="0.45">75</text>
<text transform="translate(82 729.6)" font-size="11.5" text-anchor="middle" fill="#72100b" dy=".36em" font-weight="bold" letter-spacing="0.45">100</text>
<text transform="translate(131.6 716.8)" font-size="11.5" text-anchor="middle" fill="#3c3c3c" dy=".36em" letter-spacing="0.2"><tspan fill="#72100b" font-weight="bold">S</tspan>(松下)</text>
<text transform="translate(190 703.8)" font-size="11.5" text-anchor="middle" fill="#72100b" dy=".36em" font-weight="bold" letter-spacing="0.45">100</text>
<text transform="translate(190 723.4)" font-size="11.5" text-anchor="middle" fill="#72100b" dy=".36em" font-weight="bold" letter-spacing="0.45">400</text>
<text transform="translate(247.3 709.4)" font-size="11.5" text-anchor="middle" fill="#3c3c3c" dy=".36em" letter-spacing="0.2"><tspan fill="#72100b" font-weight="bold">U</tspan>(无刹车)</text>
<text transform="translate(247.3 723.8)" font-size="11.5" text-anchor="middle" fill="#3c3c3c" dy=".36em" letter-spacing="0.2"><tspan fill="#72100b" font-weight="bold">V</tspan>(有刹车)</text>
<text transform="translate(302 709.4)" font-size="11.5" text-anchor="middle" fill="#3c3c3c" dy=".36em" letter-spacing="0.2"><tspan fill="#72100b" font-weight="bold">A</tspan>(通用)</text>
<text transform="translate(302 723.8)" font-size="11.5" text-anchor="middle" fill="#3c3c3c" dy=".36em" letter-spacing="0.2"><tspan fill="#72100b" font-weight="bold">B</tspan>(转角)</text>
<text transform="translate(354.6 717.6)" font-size="11.5" text-anchor="middle" fill="#72100b" dy=".36em" font-weight="bold" letter-spacing="0.45">5</text>
<text transform="translate(406 709.4)" font-size="11.5" text-anchor="middle" fill="#3c3c3c" dy=".36em" letter-spacing="0.5"><tspan fill="#72100b" font-weight="bold">N</tspan>(NPN)</text>
<text transform="translate(406 723.8)" font-size="11.5" text-anchor="middle" fill="#3c3c3c" dy=".36em" letter-spacing="0.5"><tspan fill="#72100b" font-weight="bold">P</tspan>(PNP)</text>
<text transform="translate(459.3 703.8)" font-size="12" text-anchor="middle" fill="#3c3c3c" dy=".36em" letter-spacing="0.3">50</text>
<text transform="translate(459.3 716.8)" font-size="12" text-anchor="middle" fill="#3c3c3c" dy=".36em" letter-spacing="0.3">75</text>
<text transform="translate(459.3 729.6)" font-size="12" text-anchor="middle" fill="#3c3c3c" dy=".36em" letter-spacing="0.3">100</text>
<text transform="translate(510.5 703.8)" font-size="12" text-anchor="middle" fill="#3c3c3c" dy=".36em" letter-spacing="0.3">41</text>
<text transform="translate(510.5 716.8)" font-size="12" text-anchor="middle" fill="#3c3c3c" dy=".36em" letter-spacing="0.3">63.5</text>
<text transform="translate(510.5 729.6)" font-size="12" text-anchor="middle" fill="#3c3c3c" dy=".36em" letter-spacing="0.3">86</text>
<text transform="translate(562.6 703.8)" font-size="12" text-anchor="middle" fill="#3c3c3c" dy=".36em" letter-spacing="0.3">12</text>
<text transform="translate(562.6 716.8)" font-size="12" text-anchor="middle" fill="#3c3c3c" dy=".36em" letter-spacing="0.3">22</text>
<text transform="translate(562.6 729.6)" font-size="12" text-anchor="middle" fill="#3c3c3c" dy=".36em" letter-spacing="0.3">32</text>
<text transform="translate(667.3 703.8)" font-size="12" text-anchor="middle" fill="#3c3c3c" dy=".36em" letter-spacing="0.3">0.6</text>
<text transform="translate(667.3 716.8)" font-size="12" text-anchor="middle" fill="#3c3c3c" dy=".36em" letter-spacing="0.3">0.8</text>
<text transform="translate(667.3 729.6)" font-size="12" text-anchor="middle" fill="#3c3c3c" dy=".36em" letter-spacing="0.3">1.0</text>
<text transform="translate(719.5 703.8)" font-size="12" text-anchor="middle" fill="#3c3c3c" dy=".36em" letter-spacing="0.3">1.0</text>
<text transform="translate(719.5 716.8)" font-size="12" text-anchor="middle" fill="#3c3c3c" dy=".36em" letter-spacing="0.3">1.27</text>
<text transform="translate(719.5 729.6)" font-size="12" text-anchor="middle" fill="#3c3c3c" dy=".36em" letter-spacing="0.3">1.27</text>
<text transform="translate(772.6 703.8)" font-size="12" text-anchor="middle" fill="#3c3c3c" dy=".36em" letter-spacing="0.3">0.8</text>
<text transform="translate(772.6 716.8)" font-size="12" text-anchor="middle" fill="#3c3c3c" dy=".36em" letter-spacing="0.3">1.2</text>
<text transform="translate(772.6 729.6)" font-size="12" text-anchor="middle" fill="#3c3c3c" dy=".36em" letter-spacing="0.3">1.5</text>
<text transform="translate(616 716.8)" font-size="12" text-anchor="middle" fill="#3c3c3c" dy=".36em" letter-spacing="0.3">±0.05</text>
<rect x="77" y="747.4" width="355" height="30.6" stroke="none" stroke-width="0" fill="#eceeed"/>
<rect x="113.6" y="789" width="130" height="10.4" stroke="none" stroke-width="0" fill="#eceeed"/>
<line x1="113.6" y1="758" x2="113.6" y2="799.4" stroke="#fff" stroke-width="2.4"/>
<line x1="149" y1="747.4" x2="149" y2="799.4" stroke="#fff" stroke-width="2.4"/>
<line x1="197" y1="758" x2="197" y2="799.4" stroke="#fff" stroke-width="2.4"/>
<line x1="244" y1="758" x2="244" y2="799.4" stroke="#fff" stroke-width="2.4"/>
<line x1="291" y1="747.4" x2="291" y2="799.4" stroke="#fff" stroke-width="2.4"/>
<line x1="338.4" y1="747.4" x2="338.4" y2="799.4" stroke="#fff" stroke-width="2.4"/>
<line x1="385" y1="747.4" x2="385" y2="799.4" stroke="#fff" stroke-width="2.4"/>
<line x1="77" y1="747.4" x2="432" y2="747.4" stroke="#fff" stroke-width="2.4"/>
<line x1="77" y1="758" x2="291" y2="758" stroke="#fff" stroke-width="2.4"/>
<line x1="77" y1="778" x2="432" y2="778" stroke="#fff" stroke-width="2.4"/>
<line x1="77" y1="799.4" x2="432" y2="799.4" stroke="#fff" stroke-width="2.4"/>
<line x1="113.6" y1="789" x2="149" y2="789" stroke="#fff" stroke-width="2.4"/>
<line x1="197" y1="789" x2="244" y2="789" stroke="#fff" stroke-width="2.4"/>
<line x1="113.6" y1="758" x2="113.6" y2="799.4" stroke="#8a8a8a" stroke-width="1"/>
<line x1="149" y1="747.4" x2="149" y2="799.4" stroke="#8a8a8a" stroke-width="1"/>
<line x1="197" y1="758" x2="197" y2="799.4" stroke="#8a8a8a" stroke-width="1"/>
<line x1="244" y1="758" x2="244" y2="799.4" stroke="#8a8a8a" stroke-width="1"/>
<line x1="291" y1="747.4" x2="291" y2="799.4" stroke="#8a8a8a" stroke-width="1"/>
<line x1="338.4" y1="747.4" x2="338.4" y2="799.4" stroke="#8a8a8a" stroke-width="1"/>
<line x1="385" y1="747.4" x2="385" y2="799.4" stroke="#8a8a8a" stroke-width="1"/>
<line x1="77" y1="747.4" x2="432" y2="747.4" stroke="#777" stroke-width="1.1"/>
<line x1="77" y1="758" x2="291" y2="758" stroke="#8a8a8a" stroke-width="1"/>
<line x1="77" y1="778" x2="432" y2="778" stroke="#8a8a8a" stroke-width="1"/>
<line x1="77" y1="799.4" x2="432" y2="799.4" stroke="#777" stroke-width="1.1"/>
<line x1="113.6" y1="789" x2="149" y2="789" stroke="#8a8a8a" stroke-width="1"/>
<line x1="197" y1="789" x2="244" y2="789" stroke="#8a8a8a" stroke-width="1"/>
<text transform="translate(113 753.4)" font-size="9.6" text-anchor="middle" fill="#3c3c3c" dy=".36em" font-weight="500" letter-spacing="0.1">型号</text>
<text transform="translate(220 753.4)" font-size="9.6" text-anchor="middle" fill="#3c3c3c" dy=".36em" font-weight="500" letter-spacing="0.1">电机选择</text>
<text transform="translate(95.3 768.4)" font-size="9.6" text-anchor="middle" fill="#3c3c3c" dy=".36em" font-weight="500" letter-spacing="0.1">代码</text>
<text transform="translate(131.3 768.4)" font-size="9.6" text-anchor="middle" fill="#3c3c3c" dy=".36em" font-weight="500" letter-spacing="0.1">规格</text>
<text transform="translate(173 763.3)" font-size="9.6" text-anchor="middle" fill="#3c3c3c" dy=".36em" font-weight="500" letter-spacing="0.1">适配</text>
<text transform="translate(173 774)" font-size="9.6" text-anchor="middle" fill="#3c3c3c" dy=".36em" font-weight="500" letter-spacing="0.1">伺服品牌</text>
<text transform="translate(220.5 764.2)" font-size="9.6" text-anchor="middle" fill="#3c3c3c" dy=".36em" font-weight="500" letter-spacing="0.1">电机功率</text>
<text transform="translate(220.5 773.6)" font-size="10.5" text-anchor="middle" fill="#3c3c3c" dy=".36em" font-weight="500" letter-spacing="0.1">W</text>
<text transform="translate(267.5 768.4)" font-size="9.6" text-anchor="middle" fill="#3c3c3c" dy=".36em" font-weight="500" letter-spacing="0.1">刹车形式</text>
<text transform="translate(314.8 757.8)" font-size="9.6" text-anchor="middle" fill="#3c3c3c" dy=".36em" font-weight="500" letter-spacing="0.1">减速机</text>
<text transform="translate(314.8 769.8)" font-size="9.6" text-anchor="middle" fill="#3c3c3c" dy=".36em" font-weight="500" letter-spacing="0.1">连接方式</text>
<text transform="translate(361.7 763.6)" font-size="9.6" text-anchor="middle" fill="#3c3c3c" dy=".36em" font-weight="500" letter-spacing="0.1">减速比</text>
<text transform="translate(408.6 763.6)" font-size="9.6" text-anchor="middle" fill="#3c3c3c" dy=".36em" font-weight="500" letter-spacing="0.1">输出信号</text>
<text transform="translate(95.2 789.3)" font-size="9.6" text-anchor="middle" fill="#3c3c3c" dy=".36em">SBC22</text>
<text transform="translate(131.6 784.2)" font-size="9.5" text-anchor="middle" fill="#3c3c3c" dy=".36em" letter-spacing="0.15">50</text>
<text transform="translate(131.6 794.8)" font-size="9.5" text-anchor="middle" fill="#3c3c3c" dy=".36em" letter-spacing="0.15">75</text>
<text transform="translate(173 789.4)" font-size="9.5" text-anchor="middle" fill="#3c3c3c" dy=".36em" letter-spacing="0.15">S(松下)</text>
<text transform="translate(221 784.2)" font-size="9.5" text-anchor="middle" fill="#3c3c3c" dy=".36em" letter-spacing="0.15">100</text>
<text transform="translate(221 794.8)" font-size="9.5" text-anchor="middle" fill="#3c3c3c" dy=".36em" letter-spacing="0.15">400</text>
<text transform="translate(268 784.2)" font-size="9.5" text-anchor="middle" fill="#3c3c3c" dy=".36em" letter-spacing="0.15">U(无刹车)</text>
<text transform="translate(268 794.8)" font-size="9.5" text-anchor="middle" fill="#3c3c3c" dy=".36em" letter-spacing="0.15">V(有刹车)</text>
<text transform="translate(314.8 784.2)" font-size="9.5" text-anchor="middle" fill="#3c3c3c" dy=".36em" letter-spacing="0.15">A(通用)</text>
<text transform="translate(314.8 794.8)" font-size="9.5" text-anchor="middle" fill="#3c3c3c" dy=".36em" letter-spacing="0.15">B(转角)</text>
<text transform="translate(361.8 789.4)" font-size="9.5" text-anchor="middle" fill="#3c3c3c" dy=".36em" letter-spacing="0.15">5</text>
<text transform="translate(409 784.2)" font-size="9.5" text-anchor="middle" fill="#3c3c3c" dy=".36em" letter-spacing="0.15">N(NPN)</text>
<text transform="translate(409 794.8)" font-size="9.5" text-anchor="middle" fill="#3c3c3c" dy=".36em" letter-spacing="0.15">P(PNP)</text>
<ellipse cx="94.8" cy="789.4" rx="15.6" ry="5.4" stroke="#72100b" stroke-width="1" fill="none"/>
<ellipse cx="131.4" cy="794.4" rx="8" ry="4.2" stroke="#72100b" stroke-width="1" fill="none"/>
<ellipse cx="159.8" cy="788.8" rx="8" ry="4.4" stroke="#72100b" stroke-width="1" fill="none"/>
<ellipse cx="221" cy="794.8" rx="8.4" ry="4.2" stroke="#72100b" stroke-width="1" fill="none"/>
<ellipse cx="250.3" cy="782.8" rx="8" ry="4.4" stroke="#72100b" stroke-width="1" fill="none"/>
<ellipse cx="301.7" cy="783.4" rx="8" ry="4.2" stroke="#72100b" stroke-width="1" fill="none"/>
<ellipse cx="361.6" cy="789.3" rx="8.2" ry="4.4" stroke="#72100b" stroke-width="1" fill="none"/>
<ellipse cx="394.4" cy="783.4" rx="8" ry="4.2" stroke="#72100b" stroke-width="1" fill="none"/>
<text x="77" y="815.3" font-size="15" font-weight="bold" fill="#72100b" textLength="227.5" lengthAdjust="spacing">SBC22 - 75 - S - 400-U - A - 5 - N</text>
<defs><linearGradient id="pg" x1="0" y1="0" x2="0" y2="1"><stop offset="0" stop-color="#ffffff"/><stop offset="0.7" stop-color="#f6f6f6"/><stop offset="1" stop-color="#ececec"/></linearGradient><linearGradient id="ph" x1="0" y1="0" x2="0" y2="1"><stop offset="0" stop-color="#a2a2a2"/><stop offset="1" stop-color="#666666"/></linearGradient><linearGradient id="pr" x1="0" y1="0" x2="0" y2="1"><stop offset="0" stop-color="#d6d6d6"/><stop offset="1" stop-color="#efefef"/></linearGradient></defs>
<rect x="4.4" y="747.4" width="39.2" height="39.4" stroke="#c6c6c6" stroke-width="1.1" fill="url(#pg)" rx="4.5"/>
<path d="M10.8 759 q-0.4 -6.6 9.2 -6.6 h7.6 q9.6 0 9.2 6.6 q0 1.6 -1.6 1.6 h-5.4 q-1.5 0 -1.5 -1.5 v-1.8 h-9 v1.8 q0 1.5 -1.5 1.5 h-5.4 q-1.6 0 -1.6 -1.6 z" stroke="none" stroke-width="0" fill="url(#ph)" />
<path d="M16.6 761.6 h14.6 q1.2 0 1.6 1.2 l2.8 9.6 q0.6 2.6 -2 2.6 h-19.4 q-2.6 0 -2 -2.6 l2.8 -9.6 q0.4 -1.2 1.6 -1.2 z" stroke="none" stroke-width="0" fill="url(#ph)" />
<rect x="20.8" y="757.8" width="6.2" height="4" stroke="none" stroke-width="0" fill="#8e8e8e"/>
<rect x="19.2" y="763.7" width="2.6" height="2.5" stroke="none" stroke-width="0" fill="#fafafa"/>
<rect x="19.2" y="767" width="2.6" height="2.5" stroke="none" stroke-width="0" fill="#fafafa"/>
<rect x="19.2" y="770.3" width="2.6" height="2.5" stroke="none" stroke-width="0" fill="#fafafa"/>
<rect x="22.5" y="763.7" width="2.6" height="2.5" stroke="none" stroke-width="0" fill="#fafafa"/>
<rect x="22.5" y="767" width="2.6" height="2.5" stroke="none" stroke-width="0" fill="#fafafa"/>
<rect x="22.5" y="770.3" width="2.6" height="2.5" stroke="none" stroke-width="0" fill="#fafafa"/>
<rect x="25.8" y="763.7" width="2.6" height="2.5" stroke="none" stroke-width="0" fill="#fafafa"/>
<rect x="25.8" y="767" width="2.6" height="2.5" stroke="none" stroke-width="0" fill="#fafafa"/>
<rect x="25.8" y="770.3" width="2.6" height="2.5" stroke="none" stroke-width="0" fill="#fafafa"/>
<path d="M35.6 761.4 q3 1.2 2.6 4 q-1.4 1.6 -0.2 3 q1 1.4 -0.8 2.6 l-1 0.6" stroke="#8a8a8a" stroke-width="0.9" fill="none" />
<path d="M12.8 776.8 h22.4 l0.8 7.6 q-12 2 -24 0 z" stroke="none" stroke-width="0" fill="url(#pr)" />
<text transform="translate(3.4 795)" font-size="10.4" text-anchor="start" fill="#333" dy=".36em" font-weight="500">请按图示订货</text>
<path d="M48.4 770.2 q0.2 -3.2 3.6 -3.6 q3 -0.4 5.2 0.6 l6.4 0.4 q1.4 0.7 0 1.5 l-5 0.5 q1.2 0.9 0.4 1.9 q0.5 1.2 -0.7 1.9 q0 1.2 -1.3 1.5 q-0.6 0.8 -2 0.6 h-2.6 q-3.6 -0.6 -4 -5.3 z" stroke="#3c3c3c" stroke-width="0.9" fill="#fff" />
<path d="M54 769.8 q2.4 -1 4.6 -0.3 M54.8 771.8 q1.8 -0.6 3.8 -0.1 M55.2 773.6 q1.4 -0.4 2.8 0" stroke="#555" stroke-width="0.7" fill="none" />
</svg>
</body>
</html>
